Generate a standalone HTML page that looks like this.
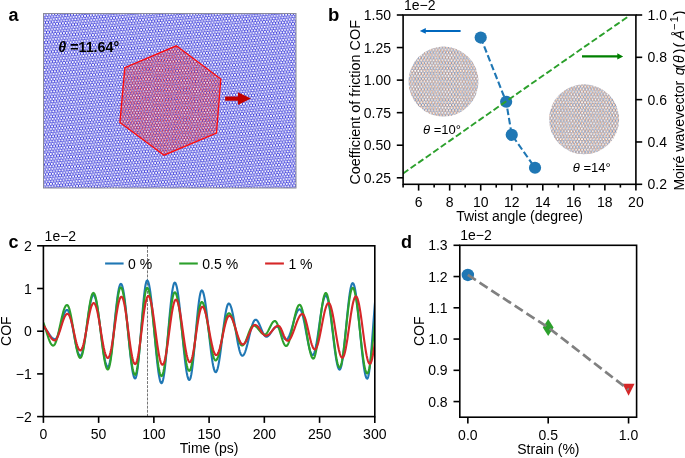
<!DOCTYPE html>
<html><head><meta charset="utf-8"><style>
html,body{margin:0;padding:0;background:#fff;width:685px;height:458px;overflow:hidden;}
svg{display:block;font-family:"Liberation Sans",sans-serif;will-change:transform;}
</style></head><body>
<svg width="685" height="458" viewBox="0 0 685 458" font-family="Liberation Sans, sans-serif"><defs><pattern id="pb" patternUnits="userSpaceOnUse" width="28.600" height="29.722" patternTransform="rotate(-6)"><rect width="28.600" height="29.722" fill="#2020d6"/><path d="M-1.12,0.00a1.12,1.12 0 1,0 2.24,0a1.12,1.12 0 1,0 -2.24,0M0.31,2.48a1.12,1.12 0 1,0 2.24,0a1.12,1.12 0 1,0 -2.24,0M1.74,0.00a1.12,1.12 0 1,0 2.24,0a1.12,1.12 0 1,0 -2.24,0M3.17,2.48a1.12,1.12 0 1,0 2.24,0a1.12,1.12 0 1,0 -2.24,0M4.60,0.00a1.12,1.12 0 1,0 2.24,0a1.12,1.12 0 1,0 -2.24,0M6.03,2.48a1.12,1.12 0 1,0 2.24,0a1.12,1.12 0 1,0 -2.24,0M7.46,0.00a1.12,1.12 0 1,0 2.24,0a1.12,1.12 0 1,0 -2.24,0M8.89,2.48a1.12,1.12 0 1,0 2.24,0a1.12,1.12 0 1,0 -2.24,0M10.32,0.00a1.12,1.12 0 1,0 2.24,0a1.12,1.12 0 1,0 -2.24,0M11.75,2.48a1.12,1.12 0 1,0 2.24,0a1.12,1.12 0 1,0 -2.24,0M13.18,0.00a1.12,1.12 0 1,0 2.24,0a1.12,1.12 0 1,0 -2.24,0M14.61,2.48a1.12,1.12 0 1,0 2.24,0a1.12,1.12 0 1,0 -2.24,0M16.04,0.00a1.12,1.12 0 1,0 2.24,0a1.12,1.12 0 1,0 -2.24,0M17.47,2.48a1.12,1.12 0 1,0 2.24,0a1.12,1.12 0 1,0 -2.24,0M18.90,0.00a1.12,1.12 0 1,0 2.24,0a1.12,1.12 0 1,0 -2.24,0M20.33,2.48a1.12,1.12 0 1,0 2.24,0a1.12,1.12 0 1,0 -2.24,0M21.76,0.00a1.12,1.12 0 1,0 2.24,0a1.12,1.12 0 1,0 -2.24,0M23.19,2.48a1.12,1.12 0 1,0 2.24,0a1.12,1.12 0 1,0 -2.24,0M24.62,0.00a1.12,1.12 0 1,0 2.24,0a1.12,1.12 0 1,0 -2.24,0M26.05,2.48a1.12,1.12 0 1,0 2.24,0a1.12,1.12 0 1,0 -2.24,0M27.48,0.00a1.12,1.12 0 1,0 2.24,0a1.12,1.12 0 1,0 -2.24,0M-1.12,4.95a1.12,1.12 0 1,0 2.24,0a1.12,1.12 0 1,0 -2.24,0M0.31,7.43a1.12,1.12 0 1,0 2.24,0a1.12,1.12 0 1,0 -2.24,0M1.74,4.95a1.12,1.12 0 1,0 2.24,0a1.12,1.12 0 1,0 -2.24,0M3.17,7.43a1.12,1.12 0 1,0 2.24,0a1.12,1.12 0 1,0 -2.24,0M4.60,4.95a1.12,1.12 0 1,0 2.24,0a1.12,1.12 0 1,0 -2.24,0M6.03,7.43a1.12,1.12 0 1,0 2.24,0a1.12,1.12 0 1,0 -2.24,0M7.46,4.95a1.12,1.12 0 1,0 2.24,0a1.12,1.12 0 1,0 -2.24,0M8.89,7.43a1.12,1.12 0 1,0 2.24,0a1.12,1.12 0 1,0 -2.24,0M10.32,4.95a1.12,1.12 0 1,0 2.24,0a1.12,1.12 0 1,0 -2.24,0M11.75,7.43a1.12,1.12 0 1,0 2.24,0a1.12,1.12 0 1,0 -2.24,0M13.18,4.95a1.12,1.12 0 1,0 2.24,0a1.12,1.12 0 1,0 -2.24,0M14.61,7.43a1.12,1.12 0 1,0 2.24,0a1.12,1.12 0 1,0 -2.24,0M16.04,4.95a1.12,1.12 0 1,0 2.24,0a1.12,1.12 0 1,0 -2.24,0M17.47,7.43a1.12,1.12 0 1,0 2.24,0a1.12,1.12 0 1,0 -2.24,0M18.90,4.95a1.12,1.12 0 1,0 2.24,0a1.12,1.12 0 1,0 -2.24,0M20.33,7.43a1.12,1.12 0 1,0 2.24,0a1.12,1.12 0 1,0 -2.24,0M21.76,4.95a1.12,1.12 0 1,0 2.24,0a1.12,1.12 0 1,0 -2.24,0M23.19,7.43a1.12,1.12 0 1,0 2.24,0a1.12,1.12 0 1,0 -2.24,0M24.62,4.95a1.12,1.12 0 1,0 2.24,0a1.12,1.12 0 1,0 -2.24,0M26.05,7.43a1.12,1.12 0 1,0 2.24,0a1.12,1.12 0 1,0 -2.24,0M27.48,4.95a1.12,1.12 0 1,0 2.24,0a1.12,1.12 0 1,0 -2.24,0M-1.12,9.91a1.12,1.12 0 1,0 2.24,0a1.12,1.12 0 1,0 -2.24,0M0.31,12.38a1.12,1.12 0 1,0 2.24,0a1.12,1.12 0 1,0 -2.24,0M1.74,9.91a1.12,1.12 0 1,0 2.24,0a1.12,1.12 0 1,0 -2.24,0M3.17,12.38a1.12,1.12 0 1,0 2.24,0a1.12,1.12 0 1,0 -2.24,0M4.60,9.91a1.12,1.12 0 1,0 2.24,0a1.12,1.12 0 1,0 -2.24,0M6.03,12.38a1.12,1.12 0 1,0 2.24,0a1.12,1.12 0 1,0 -2.24,0M7.46,9.91a1.12,1.12 0 1,0 2.24,0a1.12,1.12 0 1,0 -2.24,0M8.89,12.38a1.12,1.12 0 1,0 2.24,0a1.12,1.12 0 1,0 -2.24,0M10.32,9.91a1.12,1.12 0 1,0 2.24,0a1.12,1.12 0 1,0 -2.24,0M11.75,12.38a1.12,1.12 0 1,0 2.24,0a1.12,1.12 0 1,0 -2.24,0M13.18,9.91a1.12,1.12 0 1,0 2.24,0a1.12,1.12 0 1,0 -2.24,0M14.61,12.38a1.12,1.12 0 1,0 2.24,0a1.12,1.12 0 1,0 -2.24,0M16.04,9.91a1.12,1.12 0 1,0 2.24,0a1.12,1.12 0 1,0 -2.24,0M17.47,12.38a1.12,1.12 0 1,0 2.24,0a1.12,1.12 0 1,0 -2.24,0M18.90,9.91a1.12,1.12 0 1,0 2.24,0a1.12,1.12 0 1,0 -2.24,0M20.33,12.38a1.12,1.12 0 1,0 2.24,0a1.12,1.12 0 1,0 -2.24,0M21.76,9.91a1.12,1.12 0 1,0 2.24,0a1.12,1.12 0 1,0 -2.24,0M23.19,12.38a1.12,1.12 0 1,0 2.24,0a1.12,1.12 0 1,0 -2.24,0M24.62,9.91a1.12,1.12 0 1,0 2.24,0a1.12,1.12 0 1,0 -2.24,0M26.05,12.38a1.12,1.12 0 1,0 2.24,0a1.12,1.12 0 1,0 -2.24,0M27.48,9.91a1.12,1.12 0 1,0 2.24,0a1.12,1.12 0 1,0 -2.24,0M-1.12,14.86a1.12,1.12 0 1,0 2.24,0a1.12,1.12 0 1,0 -2.24,0M0.31,17.34a1.12,1.12 0 1,0 2.24,0a1.12,1.12 0 1,0 -2.24,0M1.74,14.86a1.12,1.12 0 1,0 2.24,0a1.12,1.12 0 1,0 -2.24,0M3.17,17.34a1.12,1.12 0 1,0 2.24,0a1.12,1.12 0 1,0 -2.24,0M4.60,14.86a1.12,1.12 0 1,0 2.24,0a1.12,1.12 0 1,0 -2.24,0M6.03,17.34a1.12,1.12 0 1,0 2.24,0a1.12,1.12 0 1,0 -2.24,0M7.46,14.86a1.12,1.12 0 1,0 2.24,0a1.12,1.12 0 1,0 -2.24,0M8.89,17.34a1.12,1.12 0 1,0 2.24,0a1.12,1.12 0 1,0 -2.24,0M10.32,14.86a1.12,1.12 0 1,0 2.24,0a1.12,1.12 0 1,0 -2.24,0M11.75,17.34a1.12,1.12 0 1,0 2.24,0a1.12,1.12 0 1,0 -2.24,0M13.18,14.86a1.12,1.12 0 1,0 2.24,0a1.12,1.12 0 1,0 -2.24,0M14.61,17.34a1.12,1.12 0 1,0 2.24,0a1.12,1.12 0 1,0 -2.24,0M16.04,14.86a1.12,1.12 0 1,0 2.24,0a1.12,1.12 0 1,0 -2.24,0M17.47,17.34a1.12,1.12 0 1,0 2.24,0a1.12,1.12 0 1,0 -2.24,0M18.90,14.86a1.12,1.12 0 1,0 2.24,0a1.12,1.12 0 1,0 -2.24,0M20.33,17.34a1.12,1.12 0 1,0 2.24,0a1.12,1.12 0 1,0 -2.24,0M21.76,14.86a1.12,1.12 0 1,0 2.24,0a1.12,1.12 0 1,0 -2.24,0M23.19,17.34a1.12,1.12 0 1,0 2.24,0a1.12,1.12 0 1,0 -2.24,0M24.62,14.86a1.12,1.12 0 1,0 2.24,0a1.12,1.12 0 1,0 -2.24,0M26.05,17.34a1.12,1.12 0 1,0 2.24,0a1.12,1.12 0 1,0 -2.24,0M27.48,14.86a1.12,1.12 0 1,0 2.24,0a1.12,1.12 0 1,0 -2.24,0M-1.12,19.81a1.12,1.12 0 1,0 2.24,0a1.12,1.12 0 1,0 -2.24,0M0.31,22.29a1.12,1.12 0 1,0 2.24,0a1.12,1.12 0 1,0 -2.24,0M1.74,19.81a1.12,1.12 0 1,0 2.24,0a1.12,1.12 0 1,0 -2.24,0M3.17,22.29a1.12,1.12 0 1,0 2.24,0a1.12,1.12 0 1,0 -2.24,0M4.60,19.81a1.12,1.12 0 1,0 2.24,0a1.12,1.12 0 1,0 -2.24,0M6.03,22.29a1.12,1.12 0 1,0 2.24,0a1.12,1.12 0 1,0 -2.24,0M7.46,19.81a1.12,1.12 0 1,0 2.24,0a1.12,1.12 0 1,0 -2.24,0M8.89,22.29a1.12,1.12 0 1,0 2.24,0a1.12,1.12 0 1,0 -2.24,0M10.32,19.81a1.12,1.12 0 1,0 2.24,0a1.12,1.12 0 1,0 -2.24,0M11.75,22.29a1.12,1.12 0 1,0 2.24,0a1.12,1.12 0 1,0 -2.24,0M13.18,19.81a1.12,1.12 0 1,0 2.24,0a1.12,1.12 0 1,0 -2.24,0M14.61,22.29a1.12,1.12 0 1,0 2.24,0a1.12,1.12 0 1,0 -2.24,0M16.04,19.81a1.12,1.12 0 1,0 2.24,0a1.12,1.12 0 1,0 -2.24,0M17.47,22.29a1.12,1.12 0 1,0 2.24,0a1.12,1.12 0 1,0 -2.24,0M18.90,19.81a1.12,1.12 0 1,0 2.24,0a1.12,1.12 0 1,0 -2.24,0M20.33,22.29a1.12,1.12 0 1,0 2.24,0a1.12,1.12 0 1,0 -2.24,0M21.76,19.81a1.12,1.12 0 1,0 2.24,0a1.12,1.12 0 1,0 -2.24,0M23.19,22.29a1.12,1.12 0 1,0 2.24,0a1.12,1.12 0 1,0 -2.24,0M24.62,19.81a1.12,1.12 0 1,0 2.24,0a1.12,1.12 0 1,0 -2.24,0M26.05,22.29a1.12,1.12 0 1,0 2.24,0a1.12,1.12 0 1,0 -2.24,0M27.48,19.81a1.12,1.12 0 1,0 2.24,0a1.12,1.12 0 1,0 -2.24,0M-1.12,24.77a1.12,1.12 0 1,0 2.24,0a1.12,1.12 0 1,0 -2.24,0M0.31,27.25a1.12,1.12 0 1,0 2.24,0a1.12,1.12 0 1,0 -2.24,0M1.74,24.77a1.12,1.12 0 1,0 2.24,0a1.12,1.12 0 1,0 -2.24,0M3.17,27.25a1.12,1.12 0 1,0 2.24,0a1.12,1.12 0 1,0 -2.24,0M4.60,24.77a1.12,1.12 0 1,0 2.24,0a1.12,1.12 0 1,0 -2.24,0M6.03,27.25a1.12,1.12 0 1,0 2.24,0a1.12,1.12 0 1,0 -2.24,0M7.46,24.77a1.12,1.12 0 1,0 2.24,0a1.12,1.12 0 1,0 -2.24,0M8.89,27.25a1.12,1.12 0 1,0 2.24,0a1.12,1.12 0 1,0 -2.24,0M10.32,24.77a1.12,1.12 0 1,0 2.24,0a1.12,1.12 0 1,0 -2.24,0M11.75,27.25a1.12,1.12 0 1,0 2.24,0a1.12,1.12 0 1,0 -2.24,0M13.18,24.77a1.12,1.12 0 1,0 2.24,0a1.12,1.12 0 1,0 -2.24,0M14.61,27.25a1.12,1.12 0 1,0 2.24,0a1.12,1.12 0 1,0 -2.24,0M16.04,24.77a1.12,1.12 0 1,0 2.24,0a1.12,1.12 0 1,0 -2.24,0M17.47,27.25a1.12,1.12 0 1,0 2.24,0a1.12,1.12 0 1,0 -2.24,0M18.90,24.77a1.12,1.12 0 1,0 2.24,0a1.12,1.12 0 1,0 -2.24,0M20.33,27.25a1.12,1.12 0 1,0 2.24,0a1.12,1.12 0 1,0 -2.24,0M21.76,24.77a1.12,1.12 0 1,0 2.24,0a1.12,1.12 0 1,0 -2.24,0M23.19,27.25a1.12,1.12 0 1,0 2.24,0a1.12,1.12 0 1,0 -2.24,0M24.62,24.77a1.12,1.12 0 1,0 2.24,0a1.12,1.12 0 1,0 -2.24,0M26.05,27.25a1.12,1.12 0 1,0 2.24,0a1.12,1.12 0 1,0 -2.24,0M27.48,24.77a1.12,1.12 0 1,0 2.24,0a1.12,1.12 0 1,0 -2.24,0M-1.12,29.72a1.12,1.12 0 1,0 2.24,0a1.12,1.12 0 1,0 -2.24,0M1.74,29.72a1.12,1.12 0 1,0 2.24,0a1.12,1.12 0 1,0 -2.24,0M4.60,29.72a1.12,1.12 0 1,0 2.24,0a1.12,1.12 0 1,0 -2.24,0M7.46,29.72a1.12,1.12 0 1,0 2.24,0a1.12,1.12 0 1,0 -2.24,0M10.32,29.72a1.12,1.12 0 1,0 2.24,0a1.12,1.12 0 1,0 -2.24,0M13.18,29.72a1.12,1.12 0 1,0 2.24,0a1.12,1.12 0 1,0 -2.24,0M16.04,29.72a1.12,1.12 0 1,0 2.24,0a1.12,1.12 0 1,0 -2.24,0M18.90,29.72a1.12,1.12 0 1,0 2.24,0a1.12,1.12 0 1,0 -2.24,0M21.76,29.72a1.12,1.12 0 1,0 2.24,0a1.12,1.12 0 1,0 -2.24,0M24.62,29.72a1.12,1.12 0 1,0 2.24,0a1.12,1.12 0 1,0 -2.24,0M27.48,29.72a1.12,1.12 0 1,0 2.24,0a1.12,1.12 0 1,0 -2.24,0" fill="#fff"/></pattern><pattern id="pr" patternUnits="userSpaceOnUse" width="22.863" height="24.750" patternTransform="rotate(5.64)"><path d="M0.000,0.000 v0.825 l1.429,0.825 l1.429,-0.825 v-0.825 M1.429,1.650 v1.650 M0.000,4.950 v-0.825 l1.429,-0.825 l1.429,0.825 v0.825M2.858,0.000 v0.825 l1.429,0.825 l1.429,-0.825 v-0.825 M4.287,1.650 v1.650 M2.858,4.950 v-0.825 l1.429,-0.825 l1.429,0.825 v0.825M5.716,0.000 v0.825 l1.429,0.825 l1.429,-0.825 v-0.825 M7.145,1.650 v1.650 M5.716,4.950 v-0.825 l1.429,-0.825 l1.429,0.825 v0.825M8.574,0.000 v0.825 l1.429,0.825 l1.429,-0.825 v-0.825 M10.003,1.650 v1.650 M8.574,4.950 v-0.825 l1.429,-0.825 l1.429,0.825 v0.825M11.432,0.000 v0.825 l1.429,0.825 l1.429,-0.825 v-0.825 M12.860,1.650 v1.650 M11.432,4.950 v-0.825 l1.429,-0.825 l1.429,0.825 v0.825M14.289,0.000 v0.825 l1.429,0.825 l1.429,-0.825 v-0.825 M15.718,1.650 v1.650 M14.289,4.950 v-0.825 l1.429,-0.825 l1.429,0.825 v0.825M17.147,0.000 v0.825 l1.429,0.825 l1.429,-0.825 v-0.825 M18.576,1.650 v1.650 M17.147,4.950 v-0.825 l1.429,-0.825 l1.429,0.825 v0.825M20.005,0.000 v0.825 l1.429,0.825 l1.429,-0.825 v-0.825 M21.434,1.650 v1.650 M20.005,4.950 v-0.825 l1.429,-0.825 l1.429,0.825 v0.825M0.000,4.950 v0.825 l1.429,0.825 l1.429,-0.825 v-0.825 M1.429,6.600 v1.650 M0.000,9.900 v-0.825 l1.429,-0.825 l1.429,0.825 v0.825M2.858,4.950 v0.825 l1.429,0.825 l1.429,-0.825 v-0.825 M4.287,6.600 v1.650 M2.858,9.900 v-0.825 l1.429,-0.825 l1.429,0.825 v0.825M5.716,4.950 v0.825 l1.429,0.825 l1.429,-0.825 v-0.825 M7.145,6.600 v1.650 M5.716,9.900 v-0.825 l1.429,-0.825 l1.429,0.825 v0.825M8.574,4.950 v0.825 l1.429,0.825 l1.429,-0.825 v-0.825 M10.003,6.600 v1.650 M8.574,9.900 v-0.825 l1.429,-0.825 l1.429,0.825 v0.825M11.432,4.950 v0.825 l1.429,0.825 l1.429,-0.825 v-0.825 M12.860,6.600 v1.650 M11.432,9.900 v-0.825 l1.429,-0.825 l1.429,0.825 v0.825M14.289,4.950 v0.825 l1.429,0.825 l1.429,-0.825 v-0.825 M15.718,6.600 v1.650 M14.289,9.900 v-0.825 l1.429,-0.825 l1.429,0.825 v0.825M17.147,4.950 v0.825 l1.429,0.825 l1.429,-0.825 v-0.825 M18.576,6.600 v1.650 M17.147,9.900 v-0.825 l1.429,-0.825 l1.429,0.825 v0.825M20.005,4.950 v0.825 l1.429,0.825 l1.429,-0.825 v-0.825 M21.434,6.600 v1.650 M20.005,9.900 v-0.825 l1.429,-0.825 l1.429,0.825 v0.825M0.000,9.900 v0.825 l1.429,0.825 l1.429,-0.825 v-0.825 M1.429,11.550 v1.650 M0.000,14.850 v-0.825 l1.429,-0.825 l1.429,0.825 v0.825M2.858,9.900 v0.825 l1.429,0.825 l1.429,-0.825 v-0.825 M4.287,11.550 v1.650 M2.858,14.850 v-0.825 l1.429,-0.825 l1.429,0.825 v0.825M5.716,9.900 v0.825 l1.429,0.825 l1.429,-0.825 v-0.825 M7.145,11.550 v1.650 M5.716,14.850 v-0.825 l1.429,-0.825 l1.429,0.825 v0.825M8.574,9.900 v0.825 l1.429,0.825 l1.429,-0.825 v-0.825 M10.003,11.550 v1.650 M8.574,14.850 v-0.825 l1.429,-0.825 l1.429,0.825 v0.825M11.432,9.900 v0.825 l1.429,0.825 l1.429,-0.825 v-0.825 M12.860,11.550 v1.650 M11.432,14.850 v-0.825 l1.429,-0.825 l1.429,0.825 v0.825M14.289,9.900 v0.825 l1.429,0.825 l1.429,-0.825 v-0.825 M15.718,11.550 v1.650 M14.289,14.850 v-0.825 l1.429,-0.825 l1.429,0.825 v0.825M17.147,9.900 v0.825 l1.429,0.825 l1.429,-0.825 v-0.825 M18.576,11.550 v1.650 M17.147,14.850 v-0.825 l1.429,-0.825 l1.429,0.825 v0.825M20.005,9.900 v0.825 l1.429,0.825 l1.429,-0.825 v-0.825 M21.434,11.550 v1.650 M20.005,14.850 v-0.825 l1.429,-0.825 l1.429,0.825 v0.825M0.000,14.850 v0.825 l1.429,0.825 l1.429,-0.825 v-0.825 M1.429,16.500 v1.650 M0.000,19.800 v-0.825 l1.429,-0.825 l1.429,0.825 v0.825M2.858,14.850 v0.825 l1.429,0.825 l1.429,-0.825 v-0.825 M4.287,16.500 v1.650 M2.858,19.800 v-0.825 l1.429,-0.825 l1.429,0.825 v0.825M5.716,14.850 v0.825 l1.429,0.825 l1.429,-0.825 v-0.825 M7.145,16.500 v1.650 M5.716,19.800 v-0.825 l1.429,-0.825 l1.429,0.825 v0.825M8.574,14.850 v0.825 l1.429,0.825 l1.429,-0.825 v-0.825 M10.003,16.500 v1.650 M8.574,19.800 v-0.825 l1.429,-0.825 l1.429,0.825 v0.825M11.432,14.850 v0.825 l1.429,0.825 l1.429,-0.825 v-0.825 M12.860,16.500 v1.650 M11.432,19.800 v-0.825 l1.429,-0.825 l1.429,0.825 v0.825M14.289,14.850 v0.825 l1.429,0.825 l1.429,-0.825 v-0.825 M15.718,16.500 v1.650 M14.289,19.800 v-0.825 l1.429,-0.825 l1.429,0.825 v0.825M17.147,14.850 v0.825 l1.429,0.825 l1.429,-0.825 v-0.825 M18.576,16.500 v1.650 M17.147,19.800 v-0.825 l1.429,-0.825 l1.429,0.825 v0.825M20.005,14.850 v0.825 l1.429,0.825 l1.429,-0.825 v-0.825 M21.434,16.500 v1.650 M20.005,19.800 v-0.825 l1.429,-0.825 l1.429,0.825 v0.825M0.000,19.800 v0.825 l1.429,0.825 l1.429,-0.825 v-0.825 M1.429,21.450 v1.650 M0.000,24.750 v-0.825 l1.429,-0.825 l1.429,0.825 v0.825M2.858,19.800 v0.825 l1.429,0.825 l1.429,-0.825 v-0.825 M4.287,21.450 v1.650 M2.858,24.750 v-0.825 l1.429,-0.825 l1.429,0.825 v0.825M5.716,19.800 v0.825 l1.429,0.825 l1.429,-0.825 v-0.825 M7.145,21.450 v1.650 M5.716,24.750 v-0.825 l1.429,-0.825 l1.429,0.825 v0.825M8.574,19.800 v0.825 l1.429,0.825 l1.429,-0.825 v-0.825 M10.003,21.450 v1.650 M8.574,24.750 v-0.825 l1.429,-0.825 l1.429,0.825 v0.825M11.432,19.800 v0.825 l1.429,0.825 l1.429,-0.825 v-0.825 M12.860,21.450 v1.650 M11.432,24.750 v-0.825 l1.429,-0.825 l1.429,0.825 v0.825M14.289,19.800 v0.825 l1.429,0.825 l1.429,-0.825 v-0.825 M15.718,21.450 v1.650 M14.289,24.750 v-0.825 l1.429,-0.825 l1.429,0.825 v0.825M17.147,19.800 v0.825 l1.429,0.825 l1.429,-0.825 v-0.825 M18.576,21.450 v1.650 M17.147,24.750 v-0.825 l1.429,-0.825 l1.429,0.825 v0.825M20.005,19.800 v0.825 l1.429,0.825 l1.429,-0.825 v-0.825 M21.434,21.450 v1.650 M20.005,24.750 v-0.825 l1.429,-0.825 l1.429,0.825 v0.825" fill="none" stroke="#f01414" stroke-width="0.5"/></pattern><pattern id="ib" patternUnits="userSpaceOnUse" width="24.249" height="26.250" patternTransform="rotate(0)"><path d="M0.000,0.000 v0.875 l1.516,0.875 l1.516,-0.875 v-0.875 M1.516,1.750 v1.750 M0.000,5.250 v-0.875 l1.516,-0.875 l1.516,0.875 v0.875M3.031,0.000 v0.875 l1.516,0.875 l1.516,-0.875 v-0.875 M4.547,1.750 v1.750 M3.031,5.250 v-0.875 l1.516,-0.875 l1.516,0.875 v0.875M6.062,0.000 v0.875 l1.516,0.875 l1.516,-0.875 v-0.875 M7.578,1.750 v1.750 M6.062,5.250 v-0.875 l1.516,-0.875 l1.516,0.875 v0.875M9.093,0.000 v0.875 l1.516,0.875 l1.516,-0.875 v-0.875 M10.609,1.750 v1.750 M9.093,5.250 v-0.875 l1.516,-0.875 l1.516,0.875 v0.875M12.124,0.000 v0.875 l1.516,0.875 l1.516,-0.875 v-0.875 M13.640,1.750 v1.750 M12.124,5.250 v-0.875 l1.516,-0.875 l1.516,0.875 v0.875M15.155,0.000 v0.875 l1.516,0.875 l1.516,-0.875 v-0.875 M16.671,1.750 v1.750 M15.155,5.250 v-0.875 l1.516,-0.875 l1.516,0.875 v0.875M18.187,0.000 v0.875 l1.516,0.875 l1.516,-0.875 v-0.875 M19.702,1.750 v1.750 M18.187,5.250 v-0.875 l1.516,-0.875 l1.516,0.875 v0.875M21.218,0.000 v0.875 l1.516,0.875 l1.516,-0.875 v-0.875 M22.733,1.750 v1.750 M21.218,5.250 v-0.875 l1.516,-0.875 l1.516,0.875 v0.875M0.000,5.250 v0.875 l1.516,0.875 l1.516,-0.875 v-0.875 M1.516,7.000 v1.750 M0.000,10.500 v-0.875 l1.516,-0.875 l1.516,0.875 v0.875M3.031,5.250 v0.875 l1.516,0.875 l1.516,-0.875 v-0.875 M4.547,7.000 v1.750 M3.031,10.500 v-0.875 l1.516,-0.875 l1.516,0.875 v0.875M6.062,5.250 v0.875 l1.516,0.875 l1.516,-0.875 v-0.875 M7.578,7.000 v1.750 M6.062,10.500 v-0.875 l1.516,-0.875 l1.516,0.875 v0.875M9.093,5.250 v0.875 l1.516,0.875 l1.516,-0.875 v-0.875 M10.609,7.000 v1.750 M9.093,10.500 v-0.875 l1.516,-0.875 l1.516,0.875 v0.875M12.124,5.250 v0.875 l1.516,0.875 l1.516,-0.875 v-0.875 M13.640,7.000 v1.750 M12.124,10.500 v-0.875 l1.516,-0.875 l1.516,0.875 v0.875M15.155,5.250 v0.875 l1.516,0.875 l1.516,-0.875 v-0.875 M16.671,7.000 v1.750 M15.155,10.500 v-0.875 l1.516,-0.875 l1.516,0.875 v0.875M18.187,5.250 v0.875 l1.516,0.875 l1.516,-0.875 v-0.875 M19.702,7.000 v1.750 M18.187,10.500 v-0.875 l1.516,-0.875 l1.516,0.875 v0.875M21.218,5.250 v0.875 l1.516,0.875 l1.516,-0.875 v-0.875 M22.733,7.000 v1.750 M21.218,10.500 v-0.875 l1.516,-0.875 l1.516,0.875 v0.875M0.000,10.500 v0.875 l1.516,0.875 l1.516,-0.875 v-0.875 M1.516,12.250 v1.750 M0.000,15.750 v-0.875 l1.516,-0.875 l1.516,0.875 v0.875M3.031,10.500 v0.875 l1.516,0.875 l1.516,-0.875 v-0.875 M4.547,12.250 v1.750 M3.031,15.750 v-0.875 l1.516,-0.875 l1.516,0.875 v0.875M6.062,10.500 v0.875 l1.516,0.875 l1.516,-0.875 v-0.875 M7.578,12.250 v1.750 M6.062,15.750 v-0.875 l1.516,-0.875 l1.516,0.875 v0.875M9.093,10.500 v0.875 l1.516,0.875 l1.516,-0.875 v-0.875 M10.609,12.250 v1.750 M9.093,15.750 v-0.875 l1.516,-0.875 l1.516,0.875 v0.875M12.124,10.500 v0.875 l1.516,0.875 l1.516,-0.875 v-0.875 M13.640,12.250 v1.750 M12.124,15.750 v-0.875 l1.516,-0.875 l1.516,0.875 v0.875M15.155,10.500 v0.875 l1.516,0.875 l1.516,-0.875 v-0.875 M16.671,12.250 v1.750 M15.155,15.750 v-0.875 l1.516,-0.875 l1.516,0.875 v0.875M18.187,10.500 v0.875 l1.516,0.875 l1.516,-0.875 v-0.875 M19.702,12.250 v1.750 M18.187,15.750 v-0.875 l1.516,-0.875 l1.516,0.875 v0.875M21.218,10.500 v0.875 l1.516,0.875 l1.516,-0.875 v-0.875 M22.733,12.250 v1.750 M21.218,15.750 v-0.875 l1.516,-0.875 l1.516,0.875 v0.875M0.000,15.750 v0.875 l1.516,0.875 l1.516,-0.875 v-0.875 M1.516,17.500 v1.750 M0.000,21.000 v-0.875 l1.516,-0.875 l1.516,0.875 v0.875M3.031,15.750 v0.875 l1.516,0.875 l1.516,-0.875 v-0.875 M4.547,17.500 v1.750 M3.031,21.000 v-0.875 l1.516,-0.875 l1.516,0.875 v0.875M6.062,15.750 v0.875 l1.516,0.875 l1.516,-0.875 v-0.875 M7.578,17.500 v1.750 M6.062,21.000 v-0.875 l1.516,-0.875 l1.516,0.875 v0.875M9.093,15.750 v0.875 l1.516,0.875 l1.516,-0.875 v-0.875 M10.609,17.500 v1.750 M9.093,21.000 v-0.875 l1.516,-0.875 l1.516,0.875 v0.875M12.124,15.750 v0.875 l1.516,0.875 l1.516,-0.875 v-0.875 M13.640,17.500 v1.750 M12.124,21.000 v-0.875 l1.516,-0.875 l1.516,0.875 v0.875M15.155,15.750 v0.875 l1.516,0.875 l1.516,-0.875 v-0.875 M16.671,17.500 v1.750 M15.155,21.000 v-0.875 l1.516,-0.875 l1.516,0.875 v0.875M18.187,15.750 v0.875 l1.516,0.875 l1.516,-0.875 v-0.875 M19.702,17.500 v1.750 M18.187,21.000 v-0.875 l1.516,-0.875 l1.516,0.875 v0.875M21.218,15.750 v0.875 l1.516,0.875 l1.516,-0.875 v-0.875 M22.733,17.500 v1.750 M21.218,21.000 v-0.875 l1.516,-0.875 l1.516,0.875 v0.875M0.000,21.000 v0.875 l1.516,0.875 l1.516,-0.875 v-0.875 M1.516,22.750 v1.750 M0.000,26.250 v-0.875 l1.516,-0.875 l1.516,0.875 v0.875M3.031,21.000 v0.875 l1.516,0.875 l1.516,-0.875 v-0.875 M4.547,22.750 v1.750 M3.031,26.250 v-0.875 l1.516,-0.875 l1.516,0.875 v0.875M6.062,21.000 v0.875 l1.516,0.875 l1.516,-0.875 v-0.875 M7.578,22.750 v1.750 M6.062,26.250 v-0.875 l1.516,-0.875 l1.516,0.875 v0.875M9.093,21.000 v0.875 l1.516,0.875 l1.516,-0.875 v-0.875 M10.609,22.750 v1.750 M9.093,26.250 v-0.875 l1.516,-0.875 l1.516,0.875 v0.875M12.124,21.000 v0.875 l1.516,0.875 l1.516,-0.875 v-0.875 M13.640,22.750 v1.750 M12.124,26.250 v-0.875 l1.516,-0.875 l1.516,0.875 v0.875M15.155,21.000 v0.875 l1.516,0.875 l1.516,-0.875 v-0.875 M16.671,22.750 v1.750 M15.155,26.250 v-0.875 l1.516,-0.875 l1.516,0.875 v0.875M18.187,21.000 v0.875 l1.516,0.875 l1.516,-0.875 v-0.875 M19.702,22.750 v1.750 M18.187,26.250 v-0.875 l1.516,-0.875 l1.516,0.875 v0.875M21.218,21.000 v0.875 l1.516,0.875 l1.516,-0.875 v-0.875 M22.733,22.750 v1.750 M21.218,26.250 v-0.875 l1.516,-0.875 l1.516,0.875 v0.875" fill="none" stroke="#5583c0" stroke-width="0.68"/></pattern><pattern id="io" patternUnits="userSpaceOnUse" width="24.249" height="26.250" patternTransform="rotate(10)"><path d="M0.000,0.000 v0.875 l1.516,0.875 l1.516,-0.875 v-0.875 M1.516,1.750 v1.750 M0.000,5.250 v-0.875 l1.516,-0.875 l1.516,0.875 v0.875M3.031,0.000 v0.875 l1.516,0.875 l1.516,-0.875 v-0.875 M4.547,1.750 v1.750 M3.031,5.250 v-0.875 l1.516,-0.875 l1.516,0.875 v0.875M6.062,0.000 v0.875 l1.516,0.875 l1.516,-0.875 v-0.875 M7.578,1.750 v1.750 M6.062,5.250 v-0.875 l1.516,-0.875 l1.516,0.875 v0.875M9.093,0.000 v0.875 l1.516,0.875 l1.516,-0.875 v-0.875 M10.609,1.750 v1.750 M9.093,5.250 v-0.875 l1.516,-0.875 l1.516,0.875 v0.875M12.124,0.000 v0.875 l1.516,0.875 l1.516,-0.875 v-0.875 M13.640,1.750 v1.750 M12.124,5.250 v-0.875 l1.516,-0.875 l1.516,0.875 v0.875M15.155,0.000 v0.875 l1.516,0.875 l1.516,-0.875 v-0.875 M16.671,1.750 v1.750 M15.155,5.250 v-0.875 l1.516,-0.875 l1.516,0.875 v0.875M18.187,0.000 v0.875 l1.516,0.875 l1.516,-0.875 v-0.875 M19.702,1.750 v1.750 M18.187,5.250 v-0.875 l1.516,-0.875 l1.516,0.875 v0.875M21.218,0.000 v0.875 l1.516,0.875 l1.516,-0.875 v-0.875 M22.733,1.750 v1.750 M21.218,5.250 v-0.875 l1.516,-0.875 l1.516,0.875 v0.875M0.000,5.250 v0.875 l1.516,0.875 l1.516,-0.875 v-0.875 M1.516,7.000 v1.750 M0.000,10.500 v-0.875 l1.516,-0.875 l1.516,0.875 v0.875M3.031,5.250 v0.875 l1.516,0.875 l1.516,-0.875 v-0.875 M4.547,7.000 v1.750 M3.031,10.500 v-0.875 l1.516,-0.875 l1.516,0.875 v0.875M6.062,5.250 v0.875 l1.516,0.875 l1.516,-0.875 v-0.875 M7.578,7.000 v1.750 M6.062,10.500 v-0.875 l1.516,-0.875 l1.516,0.875 v0.875M9.093,5.250 v0.875 l1.516,0.875 l1.516,-0.875 v-0.875 M10.609,7.000 v1.750 M9.093,10.500 v-0.875 l1.516,-0.875 l1.516,0.875 v0.875M12.124,5.250 v0.875 l1.516,0.875 l1.516,-0.875 v-0.875 M13.640,7.000 v1.750 M12.124,10.500 v-0.875 l1.516,-0.875 l1.516,0.875 v0.875M15.155,5.250 v0.875 l1.516,0.875 l1.516,-0.875 v-0.875 M16.671,7.000 v1.750 M15.155,10.500 v-0.875 l1.516,-0.875 l1.516,0.875 v0.875M18.187,5.250 v0.875 l1.516,0.875 l1.516,-0.875 v-0.875 M19.702,7.000 v1.750 M18.187,10.500 v-0.875 l1.516,-0.875 l1.516,0.875 v0.875M21.218,5.250 v0.875 l1.516,0.875 l1.516,-0.875 v-0.875 M22.733,7.000 v1.750 M21.218,10.500 v-0.875 l1.516,-0.875 l1.516,0.875 v0.875M0.000,10.500 v0.875 l1.516,0.875 l1.516,-0.875 v-0.875 M1.516,12.250 v1.750 M0.000,15.750 v-0.875 l1.516,-0.875 l1.516,0.875 v0.875M3.031,10.500 v0.875 l1.516,0.875 l1.516,-0.875 v-0.875 M4.547,12.250 v1.750 M3.031,15.750 v-0.875 l1.516,-0.875 l1.516,0.875 v0.875M6.062,10.500 v0.875 l1.516,0.875 l1.516,-0.875 v-0.875 M7.578,12.250 v1.750 M6.062,15.750 v-0.875 l1.516,-0.875 l1.516,0.875 v0.875M9.093,10.500 v0.875 l1.516,0.875 l1.516,-0.875 v-0.875 M10.609,12.250 v1.750 M9.093,15.750 v-0.875 l1.516,-0.875 l1.516,0.875 v0.875M12.124,10.500 v0.875 l1.516,0.875 l1.516,-0.875 v-0.875 M13.640,12.250 v1.750 M12.124,15.750 v-0.875 l1.516,-0.875 l1.516,0.875 v0.875M15.155,10.500 v0.875 l1.516,0.875 l1.516,-0.875 v-0.875 M16.671,12.250 v1.750 M15.155,15.750 v-0.875 l1.516,-0.875 l1.516,0.875 v0.875M18.187,10.500 v0.875 l1.516,0.875 l1.516,-0.875 v-0.875 M19.702,12.250 v1.750 M18.187,15.750 v-0.875 l1.516,-0.875 l1.516,0.875 v0.875M21.218,10.500 v0.875 l1.516,0.875 l1.516,-0.875 v-0.875 M22.733,12.250 v1.750 M21.218,15.750 v-0.875 l1.516,-0.875 l1.516,0.875 v0.875M0.000,15.750 v0.875 l1.516,0.875 l1.516,-0.875 v-0.875 M1.516,17.500 v1.750 M0.000,21.000 v-0.875 l1.516,-0.875 l1.516,0.875 v0.875M3.031,15.750 v0.875 l1.516,0.875 l1.516,-0.875 v-0.875 M4.547,17.500 v1.750 M3.031,21.000 v-0.875 l1.516,-0.875 l1.516,0.875 v0.875M6.062,15.750 v0.875 l1.516,0.875 l1.516,-0.875 v-0.875 M7.578,17.500 v1.750 M6.062,21.000 v-0.875 l1.516,-0.875 l1.516,0.875 v0.875M9.093,15.750 v0.875 l1.516,0.875 l1.516,-0.875 v-0.875 M10.609,17.500 v1.750 M9.093,21.000 v-0.875 l1.516,-0.875 l1.516,0.875 v0.875M12.124,15.750 v0.875 l1.516,0.875 l1.516,-0.875 v-0.875 M13.640,17.500 v1.750 M12.124,21.000 v-0.875 l1.516,-0.875 l1.516,0.875 v0.875M15.155,15.750 v0.875 l1.516,0.875 l1.516,-0.875 v-0.875 M16.671,17.500 v1.750 M15.155,21.000 v-0.875 l1.516,-0.875 l1.516,0.875 v0.875M18.187,15.750 v0.875 l1.516,0.875 l1.516,-0.875 v-0.875 M19.702,17.500 v1.750 M18.187,21.000 v-0.875 l1.516,-0.875 l1.516,0.875 v0.875M21.218,15.750 v0.875 l1.516,0.875 l1.516,-0.875 v-0.875 M22.733,17.500 v1.750 M21.218,21.000 v-0.875 l1.516,-0.875 l1.516,0.875 v0.875M0.000,21.000 v0.875 l1.516,0.875 l1.516,-0.875 v-0.875 M1.516,22.750 v1.750 M0.000,26.250 v-0.875 l1.516,-0.875 l1.516,0.875 v0.875M3.031,21.000 v0.875 l1.516,0.875 l1.516,-0.875 v-0.875 M4.547,22.750 v1.750 M3.031,26.250 v-0.875 l1.516,-0.875 l1.516,0.875 v0.875M6.062,21.000 v0.875 l1.516,0.875 l1.516,-0.875 v-0.875 M7.578,22.750 v1.750 M6.062,26.250 v-0.875 l1.516,-0.875 l1.516,0.875 v0.875M9.093,21.000 v0.875 l1.516,0.875 l1.516,-0.875 v-0.875 M10.609,22.750 v1.750 M9.093,26.250 v-0.875 l1.516,-0.875 l1.516,0.875 v0.875M12.124,21.000 v0.875 l1.516,0.875 l1.516,-0.875 v-0.875 M13.640,22.750 v1.750 M12.124,26.250 v-0.875 l1.516,-0.875 l1.516,0.875 v0.875M15.155,21.000 v0.875 l1.516,0.875 l1.516,-0.875 v-0.875 M16.671,22.750 v1.750 M15.155,26.250 v-0.875 l1.516,-0.875 l1.516,0.875 v0.875M18.187,21.000 v0.875 l1.516,0.875 l1.516,-0.875 v-0.875 M19.702,22.750 v1.750 M18.187,26.250 v-0.875 l1.516,-0.875 l1.516,0.875 v0.875M21.218,21.000 v0.875 l1.516,0.875 l1.516,-0.875 v-0.875 M22.733,22.750 v1.750 M21.218,26.250 v-0.875 l1.516,-0.875 l1.516,0.875 v0.875" fill="none" stroke="#f09050" stroke-width="0.38"/></pattern><pattern id="ib2" patternUnits="userSpaceOnUse" width="24.249" height="26.250" patternTransform="rotate(0)"><path d="M0.000,0.000 v0.875 l1.516,0.875 l1.516,-0.875 v-0.875 M1.516,1.750 v1.750 M0.000,5.250 v-0.875 l1.516,-0.875 l1.516,0.875 v0.875M3.031,0.000 v0.875 l1.516,0.875 l1.516,-0.875 v-0.875 M4.547,1.750 v1.750 M3.031,5.250 v-0.875 l1.516,-0.875 l1.516,0.875 v0.875M6.062,0.000 v0.875 l1.516,0.875 l1.516,-0.875 v-0.875 M7.578,1.750 v1.750 M6.062,5.250 v-0.875 l1.516,-0.875 l1.516,0.875 v0.875M9.093,0.000 v0.875 l1.516,0.875 l1.516,-0.875 v-0.875 M10.609,1.750 v1.750 M9.093,5.250 v-0.875 l1.516,-0.875 l1.516,0.875 v0.875M12.124,0.000 v0.875 l1.516,0.875 l1.516,-0.875 v-0.875 M13.640,1.750 v1.750 M12.124,5.250 v-0.875 l1.516,-0.875 l1.516,0.875 v0.875M15.155,0.000 v0.875 l1.516,0.875 l1.516,-0.875 v-0.875 M16.671,1.750 v1.750 M15.155,5.250 v-0.875 l1.516,-0.875 l1.516,0.875 v0.875M18.187,0.000 v0.875 l1.516,0.875 l1.516,-0.875 v-0.875 M19.702,1.750 v1.750 M18.187,5.250 v-0.875 l1.516,-0.875 l1.516,0.875 v0.875M21.218,0.000 v0.875 l1.516,0.875 l1.516,-0.875 v-0.875 M22.733,1.750 v1.750 M21.218,5.250 v-0.875 l1.516,-0.875 l1.516,0.875 v0.875M0.000,5.250 v0.875 l1.516,0.875 l1.516,-0.875 v-0.875 M1.516,7.000 v1.750 M0.000,10.500 v-0.875 l1.516,-0.875 l1.516,0.875 v0.875M3.031,5.250 v0.875 l1.516,0.875 l1.516,-0.875 v-0.875 M4.547,7.000 v1.750 M3.031,10.500 v-0.875 l1.516,-0.875 l1.516,0.875 v0.875M6.062,5.250 v0.875 l1.516,0.875 l1.516,-0.875 v-0.875 M7.578,7.000 v1.750 M6.062,10.500 v-0.875 l1.516,-0.875 l1.516,0.875 v0.875M9.093,5.250 v0.875 l1.516,0.875 l1.516,-0.875 v-0.875 M10.609,7.000 v1.750 M9.093,10.500 v-0.875 l1.516,-0.875 l1.516,0.875 v0.875M12.124,5.250 v0.875 l1.516,0.875 l1.516,-0.875 v-0.875 M13.640,7.000 v1.750 M12.124,10.500 v-0.875 l1.516,-0.875 l1.516,0.875 v0.875M15.155,5.250 v0.875 l1.516,0.875 l1.516,-0.875 v-0.875 M16.671,7.000 v1.750 M15.155,10.500 v-0.875 l1.516,-0.875 l1.516,0.875 v0.875M18.187,5.250 v0.875 l1.516,0.875 l1.516,-0.875 v-0.875 M19.702,7.000 v1.750 M18.187,10.500 v-0.875 l1.516,-0.875 l1.516,0.875 v0.875M21.218,5.250 v0.875 l1.516,0.875 l1.516,-0.875 v-0.875 M22.733,7.000 v1.750 M21.218,10.500 v-0.875 l1.516,-0.875 l1.516,0.875 v0.875M0.000,10.500 v0.875 l1.516,0.875 l1.516,-0.875 v-0.875 M1.516,12.250 v1.750 M0.000,15.750 v-0.875 l1.516,-0.875 l1.516,0.875 v0.875M3.031,10.500 v0.875 l1.516,0.875 l1.516,-0.875 v-0.875 M4.547,12.250 v1.750 M3.031,15.750 v-0.875 l1.516,-0.875 l1.516,0.875 v0.875M6.062,10.500 v0.875 l1.516,0.875 l1.516,-0.875 v-0.875 M7.578,12.250 v1.750 M6.062,15.750 v-0.875 l1.516,-0.875 l1.516,0.875 v0.875M9.093,10.500 v0.875 l1.516,0.875 l1.516,-0.875 v-0.875 M10.609,12.250 v1.750 M9.093,15.750 v-0.875 l1.516,-0.875 l1.516,0.875 v0.875M12.124,10.500 v0.875 l1.516,0.875 l1.516,-0.875 v-0.875 M13.640,12.250 v1.750 M12.124,15.750 v-0.875 l1.516,-0.875 l1.516,0.875 v0.875M15.155,10.500 v0.875 l1.516,0.875 l1.516,-0.875 v-0.875 M16.671,12.250 v1.750 M15.155,15.750 v-0.875 l1.516,-0.875 l1.516,0.875 v0.875M18.187,10.500 v0.875 l1.516,0.875 l1.516,-0.875 v-0.875 M19.702,12.250 v1.750 M18.187,15.750 v-0.875 l1.516,-0.875 l1.516,0.875 v0.875M21.218,10.500 v0.875 l1.516,0.875 l1.516,-0.875 v-0.875 M22.733,12.250 v1.750 M21.218,15.750 v-0.875 l1.516,-0.875 l1.516,0.875 v0.875M0.000,15.750 v0.875 l1.516,0.875 l1.516,-0.875 v-0.875 M1.516,17.500 v1.750 M0.000,21.000 v-0.875 l1.516,-0.875 l1.516,0.875 v0.875M3.031,15.750 v0.875 l1.516,0.875 l1.516,-0.875 v-0.875 M4.547,17.500 v1.750 M3.031,21.000 v-0.875 l1.516,-0.875 l1.516,0.875 v0.875M6.062,15.750 v0.875 l1.516,0.875 l1.516,-0.875 v-0.875 M7.578,17.500 v1.750 M6.062,21.000 v-0.875 l1.516,-0.875 l1.516,0.875 v0.875M9.093,15.750 v0.875 l1.516,0.875 l1.516,-0.875 v-0.875 M10.609,17.500 v1.750 M9.093,21.000 v-0.875 l1.516,-0.875 l1.516,0.875 v0.875M12.124,15.750 v0.875 l1.516,0.875 l1.516,-0.875 v-0.875 M13.640,17.500 v1.750 M12.124,21.000 v-0.875 l1.516,-0.875 l1.516,0.875 v0.875M15.155,15.750 v0.875 l1.516,0.875 l1.516,-0.875 v-0.875 M16.671,17.500 v1.750 M15.155,21.000 v-0.875 l1.516,-0.875 l1.516,0.875 v0.875M18.187,15.750 v0.875 l1.516,0.875 l1.516,-0.875 v-0.875 M19.702,17.500 v1.750 M18.187,21.000 v-0.875 l1.516,-0.875 l1.516,0.875 v0.875M21.218,15.750 v0.875 l1.516,0.875 l1.516,-0.875 v-0.875 M22.733,17.500 v1.750 M21.218,21.000 v-0.875 l1.516,-0.875 l1.516,0.875 v0.875M0.000,21.000 v0.875 l1.516,0.875 l1.516,-0.875 v-0.875 M1.516,22.750 v1.750 M0.000,26.250 v-0.875 l1.516,-0.875 l1.516,0.875 v0.875M3.031,21.000 v0.875 l1.516,0.875 l1.516,-0.875 v-0.875 M4.547,22.750 v1.750 M3.031,26.250 v-0.875 l1.516,-0.875 l1.516,0.875 v0.875M6.062,21.000 v0.875 l1.516,0.875 l1.516,-0.875 v-0.875 M7.578,22.750 v1.750 M6.062,26.250 v-0.875 l1.516,-0.875 l1.516,0.875 v0.875M9.093,21.000 v0.875 l1.516,0.875 l1.516,-0.875 v-0.875 M10.609,22.750 v1.750 M9.093,26.250 v-0.875 l1.516,-0.875 l1.516,0.875 v0.875M12.124,21.000 v0.875 l1.516,0.875 l1.516,-0.875 v-0.875 M13.640,22.750 v1.750 M12.124,26.250 v-0.875 l1.516,-0.875 l1.516,0.875 v0.875M15.155,21.000 v0.875 l1.516,0.875 l1.516,-0.875 v-0.875 M16.671,22.750 v1.750 M15.155,26.250 v-0.875 l1.516,-0.875 l1.516,0.875 v0.875M18.187,21.000 v0.875 l1.516,0.875 l1.516,-0.875 v-0.875 M19.702,22.750 v1.750 M18.187,26.250 v-0.875 l1.516,-0.875 l1.516,0.875 v0.875M21.218,21.000 v0.875 l1.516,0.875 l1.516,-0.875 v-0.875 M22.733,22.750 v1.750 M21.218,26.250 v-0.875 l1.516,-0.875 l1.516,0.875 v0.875" fill="none" stroke="#5583c0" stroke-width="0.68"/></pattern><pattern id="io2" patternUnits="userSpaceOnUse" width="24.249" height="26.250" patternTransform="rotate(14)"><path d="M0.000,0.000 v0.875 l1.516,0.875 l1.516,-0.875 v-0.875 M1.516,1.750 v1.750 M0.000,5.250 v-0.875 l1.516,-0.875 l1.516,0.875 v0.875M3.031,0.000 v0.875 l1.516,0.875 l1.516,-0.875 v-0.875 M4.547,1.750 v1.750 M3.031,5.250 v-0.875 l1.516,-0.875 l1.516,0.875 v0.875M6.062,0.000 v0.875 l1.516,0.875 l1.516,-0.875 v-0.875 M7.578,1.750 v1.750 M6.062,5.250 v-0.875 l1.516,-0.875 l1.516,0.875 v0.875M9.093,0.000 v0.875 l1.516,0.875 l1.516,-0.875 v-0.875 M10.609,1.750 v1.750 M9.093,5.250 v-0.875 l1.516,-0.875 l1.516,0.875 v0.875M12.124,0.000 v0.875 l1.516,0.875 l1.516,-0.875 v-0.875 M13.640,1.750 v1.750 M12.124,5.250 v-0.875 l1.516,-0.875 l1.516,0.875 v0.875M15.155,0.000 v0.875 l1.516,0.875 l1.516,-0.875 v-0.875 M16.671,1.750 v1.750 M15.155,5.250 v-0.875 l1.516,-0.875 l1.516,0.875 v0.875M18.187,0.000 v0.875 l1.516,0.875 l1.516,-0.875 v-0.875 M19.702,1.750 v1.750 M18.187,5.250 v-0.875 l1.516,-0.875 l1.516,0.875 v0.875M21.218,0.000 v0.875 l1.516,0.875 l1.516,-0.875 v-0.875 M22.733,1.750 v1.750 M21.218,5.250 v-0.875 l1.516,-0.875 l1.516,0.875 v0.875M0.000,5.250 v0.875 l1.516,0.875 l1.516,-0.875 v-0.875 M1.516,7.000 v1.750 M0.000,10.500 v-0.875 l1.516,-0.875 l1.516,0.875 v0.875M3.031,5.250 v0.875 l1.516,0.875 l1.516,-0.875 v-0.875 M4.547,7.000 v1.750 M3.031,10.500 v-0.875 l1.516,-0.875 l1.516,0.875 v0.875M6.062,5.250 v0.875 l1.516,0.875 l1.516,-0.875 v-0.875 M7.578,7.000 v1.750 M6.062,10.500 v-0.875 l1.516,-0.875 l1.516,0.875 v0.875M9.093,5.250 v0.875 l1.516,0.875 l1.516,-0.875 v-0.875 M10.609,7.000 v1.750 M9.093,10.500 v-0.875 l1.516,-0.875 l1.516,0.875 v0.875M12.124,5.250 v0.875 l1.516,0.875 l1.516,-0.875 v-0.875 M13.640,7.000 v1.750 M12.124,10.500 v-0.875 l1.516,-0.875 l1.516,0.875 v0.875M15.155,5.250 v0.875 l1.516,0.875 l1.516,-0.875 v-0.875 M16.671,7.000 v1.750 M15.155,10.500 v-0.875 l1.516,-0.875 l1.516,0.875 v0.875M18.187,5.250 v0.875 l1.516,0.875 l1.516,-0.875 v-0.875 M19.702,7.000 v1.750 M18.187,10.500 v-0.875 l1.516,-0.875 l1.516,0.875 v0.875M21.218,5.250 v0.875 l1.516,0.875 l1.516,-0.875 v-0.875 M22.733,7.000 v1.750 M21.218,10.500 v-0.875 l1.516,-0.875 l1.516,0.875 v0.875M0.000,10.500 v0.875 l1.516,0.875 l1.516,-0.875 v-0.875 M1.516,12.250 v1.750 M0.000,15.750 v-0.875 l1.516,-0.875 l1.516,0.875 v0.875M3.031,10.500 v0.875 l1.516,0.875 l1.516,-0.875 v-0.875 M4.547,12.250 v1.750 M3.031,15.750 v-0.875 l1.516,-0.875 l1.516,0.875 v0.875M6.062,10.500 v0.875 l1.516,0.875 l1.516,-0.875 v-0.875 M7.578,12.250 v1.750 M6.062,15.750 v-0.875 l1.516,-0.875 l1.516,0.875 v0.875M9.093,10.500 v0.875 l1.516,0.875 l1.516,-0.875 v-0.875 M10.609,12.250 v1.750 M9.093,15.750 v-0.875 l1.516,-0.875 l1.516,0.875 v0.875M12.124,10.500 v0.875 l1.516,0.875 l1.516,-0.875 v-0.875 M13.640,12.250 v1.750 M12.124,15.750 v-0.875 l1.516,-0.875 l1.516,0.875 v0.875M15.155,10.500 v0.875 l1.516,0.875 l1.516,-0.875 v-0.875 M16.671,12.250 v1.750 M15.155,15.750 v-0.875 l1.516,-0.875 l1.516,0.875 v0.875M18.187,10.500 v0.875 l1.516,0.875 l1.516,-0.875 v-0.875 M19.702,12.250 v1.750 M18.187,15.750 v-0.875 l1.516,-0.875 l1.516,0.875 v0.875M21.218,10.500 v0.875 l1.516,0.875 l1.516,-0.875 v-0.875 M22.733,12.250 v1.750 M21.218,15.750 v-0.875 l1.516,-0.875 l1.516,0.875 v0.875M0.000,15.750 v0.875 l1.516,0.875 l1.516,-0.875 v-0.875 M1.516,17.500 v1.750 M0.000,21.000 v-0.875 l1.516,-0.875 l1.516,0.875 v0.875M3.031,15.750 v0.875 l1.516,0.875 l1.516,-0.875 v-0.875 M4.547,17.500 v1.750 M3.031,21.000 v-0.875 l1.516,-0.875 l1.516,0.875 v0.875M6.062,15.750 v0.875 l1.516,0.875 l1.516,-0.875 v-0.875 M7.578,17.500 v1.750 M6.062,21.000 v-0.875 l1.516,-0.875 l1.516,0.875 v0.875M9.093,15.750 v0.875 l1.516,0.875 l1.516,-0.875 v-0.875 M10.609,17.500 v1.750 M9.093,21.000 v-0.875 l1.516,-0.875 l1.516,0.875 v0.875M12.124,15.750 v0.875 l1.516,0.875 l1.516,-0.875 v-0.875 M13.640,17.500 v1.750 M12.124,21.000 v-0.875 l1.516,-0.875 l1.516,0.875 v0.875M15.155,15.750 v0.875 l1.516,0.875 l1.516,-0.875 v-0.875 M16.671,17.500 v1.750 M15.155,21.000 v-0.875 l1.516,-0.875 l1.516,0.875 v0.875M18.187,15.750 v0.875 l1.516,0.875 l1.516,-0.875 v-0.875 M19.702,17.500 v1.750 M18.187,21.000 v-0.875 l1.516,-0.875 l1.516,0.875 v0.875M21.218,15.750 v0.875 l1.516,0.875 l1.516,-0.875 v-0.875 M22.733,17.500 v1.750 M21.218,21.000 v-0.875 l1.516,-0.875 l1.516,0.875 v0.875M0.000,21.000 v0.875 l1.516,0.875 l1.516,-0.875 v-0.875 M1.516,22.750 v1.750 M0.000,26.250 v-0.875 l1.516,-0.875 l1.516,0.875 v0.875M3.031,21.000 v0.875 l1.516,0.875 l1.516,-0.875 v-0.875 M4.547,22.750 v1.750 M3.031,26.250 v-0.875 l1.516,-0.875 l1.516,0.875 v0.875M6.062,21.000 v0.875 l1.516,0.875 l1.516,-0.875 v-0.875 M7.578,22.750 v1.750 M6.062,26.250 v-0.875 l1.516,-0.875 l1.516,0.875 v0.875M9.093,21.000 v0.875 l1.516,0.875 l1.516,-0.875 v-0.875 M10.609,22.750 v1.750 M9.093,26.250 v-0.875 l1.516,-0.875 l1.516,0.875 v0.875M12.124,21.000 v0.875 l1.516,0.875 l1.516,-0.875 v-0.875 M13.640,22.750 v1.750 M12.124,26.250 v-0.875 l1.516,-0.875 l1.516,0.875 v0.875M15.155,21.000 v0.875 l1.516,0.875 l1.516,-0.875 v-0.875 M16.671,22.750 v1.750 M15.155,26.250 v-0.875 l1.516,-0.875 l1.516,0.875 v0.875M18.187,21.000 v0.875 l1.516,0.875 l1.516,-0.875 v-0.875 M19.702,22.750 v1.750 M18.187,26.250 v-0.875 l1.516,-0.875 l1.516,0.875 v0.875M21.218,21.000 v0.875 l1.516,0.875 l1.516,-0.875 v-0.875 M22.733,22.750 v1.750 M21.218,26.250 v-0.875 l1.516,-0.875 l1.516,0.875 v0.875" fill="none" stroke="#f09050" stroke-width="0.38"/></pattern></defs><rect width="685" height="458" fill="#fff"/><rect x="43.5" y="13.5" width="252.5" height="174.5" fill="#fff"/>
<rect x="43.5" y="13.5" width="252.5" height="174.5" fill="url(#pb)" stroke="#8a8a9a" stroke-width="1"/>
<path d="M176.3,45.8 L220.8,79 L216.5,133 L164,155.2 L119.9,122.5 L124.8,67.7 Z" fill="url(#pr)"/>
<path d="M176.3,45.8 L220.8,79 L216.5,133 L164,155.2 L119.9,122.5 L124.8,67.7 Z" fill="none" stroke="#ff0a0a" stroke-width="1.3"/>
<path d="M225.1,96.6 L237.9,96.6 L237.9,92.2 L251,98.6 L237.9,105 L237.9,100.7 L225.1,100.7 Z" fill="#c00000"/>
<text x="58.20" y="52.00" font-size="14.3" text-anchor="start" font-weight="bold" font-style="normal" fill="#000" ><tspan font-style="italic">θ</tspan> =11.64°</text>
<text x="8.60" y="21.00" font-size="18" text-anchor="start" font-weight="bold" font-style="normal" fill="#000" >a</text>
<defs><clipPath id="cb"><rect x="403.1" y="15.0" width="232.79999999999995" height="169.3"/></clipPath></defs>
<circle cx="443.5" cy="81.6" r="35" fill="url(#ib)"/>
<circle cx="443.5" cy="81.6" r="35" fill="url(#io)"/>
<circle cx="584.1" cy="119.3" r="35" fill="url(#ib2)"/>
<circle cx="584.1" cy="119.3" r="35" fill="url(#io2)"/>
<text x="423.00" y="134.40" font-size="13" text-anchor="start" font-weight="normal" font-style="normal" fill="#000" ><tspan font-style="italic">θ</tspan> =10°</text>
<text x="572.80" y="172.20" font-size="13" text-anchor="start" font-weight="normal" font-style="normal" fill="#000" ><tspan font-style="italic">θ</tspan> =14°</text>
<path d="M480.70,37.53 L506.15,101.73 L511.74,134.81 L535.02,167.76" fill="none" stroke="#1f77b4" stroke-width="2.1" stroke-dasharray="6.6 2.9"/>
<circle cx="480.70" cy="37.53" r="6.1" fill="#1f77b4"/>
<circle cx="506.15" cy="101.73" r="6.1" fill="#1f77b4"/>
<circle cx="511.74" cy="134.81" r="6.1" fill="#1f77b4"/>
<circle cx="535.02" cy="167.76" r="6.1" fill="#1f77b4"/>
<path d="M403.10,173.48 L406.98,170.76 L410.86,168.04 L414.74,165.32 L418.62,162.60 L422.50,159.88 L426.38,157.16 L430.26,154.44 L434.14,151.73 L438.02,149.01 L441.90,146.29 L445.78,143.57 L449.66,140.86 L453.54,138.14 L457.42,135.43 L461.30,132.71 L465.18,130.00 L469.06,127.28 L472.94,124.57 L476.82,121.85 L480.70,119.14 L484.58,116.43 L488.46,113.72 L492.34,111.00 L496.22,108.29 L500.10,105.58 L503.98,102.87 L507.86,100.16 L511.74,97.46 L515.62,94.75 L519.50,92.04 L523.38,89.33 L527.26,86.63 L531.14,83.92 L535.02,81.22 L538.90,78.52 L542.78,75.81 L546.66,73.11 L550.54,70.41 L554.42,67.71 L558.30,65.01 L562.18,62.31 L566.06,59.61 L569.94,56.91 L573.82,54.21 L577.70,51.52 L581.58,48.82 L585.46,46.13 L589.34,43.43 L593.22,40.74 L597.10,38.05 L600.98,35.36 L604.86,32.67 L608.74,29.98 L612.62,27.29 L616.50,24.60 L620.38,21.92 L624.26,19.23 L628.14,16.55" fill="none" stroke="#2ca02c" stroke-width="1.9" stroke-dasharray="6.4 2.8" clip-path="url(#cb)"/>
<path d="M460.6,31.9 L425.8,31.9 L425.8,33.7 L419.8,30.9 L425.8,28.1 L425.8,29.9 L460.6,29.9 Z" fill="#0068be"/>
<path d="M582,55.25 L617.3,55.25 L617.3,53.2 L623.2,56.4 L617.3,59.6 L617.3,57.55 L582,57.55 Z" fill="#008000"/>
<rect x="403.1" y="15.0" width="232.79999999999995" height="169.3" fill="none" stroke="#000" stroke-width="1.6"/>
<line x1="403.10" y1="184.30" x2="403.10" y2="187.60" stroke="#000" stroke-width="1.6" />
<line x1="418.62" y1="184.30" x2="418.62" y2="190.60" stroke="#000" stroke-width="1.6" />
<text x="418.62" y="206.60" font-size="14" text-anchor="middle" font-weight="normal" font-style="normal" fill="#000" >6</text>
<line x1="434.14" y1="184.30" x2="434.14" y2="187.60" stroke="#000" stroke-width="1.6" />
<line x1="449.66" y1="184.30" x2="449.66" y2="190.60" stroke="#000" stroke-width="1.6" />
<text x="449.66" y="206.60" font-size="14" text-anchor="middle" font-weight="normal" font-style="normal" fill="#000" >8</text>
<line x1="465.18" y1="184.30" x2="465.18" y2="187.60" stroke="#000" stroke-width="1.6" />
<line x1="480.70" y1="184.30" x2="480.70" y2="190.60" stroke="#000" stroke-width="1.6" />
<text x="480.70" y="206.60" font-size="14" text-anchor="middle" font-weight="normal" font-style="normal" fill="#000" >10</text>
<line x1="496.22" y1="184.30" x2="496.22" y2="187.60" stroke="#000" stroke-width="1.6" />
<line x1="511.74" y1="184.30" x2="511.74" y2="190.60" stroke="#000" stroke-width="1.6" />
<text x="511.74" y="206.60" font-size="14" text-anchor="middle" font-weight="normal" font-style="normal" fill="#000" >12</text>
<line x1="527.26" y1="184.30" x2="527.26" y2="187.60" stroke="#000" stroke-width="1.6" />
<line x1="542.78" y1="184.30" x2="542.78" y2="190.60" stroke="#000" stroke-width="1.6" />
<text x="542.78" y="206.60" font-size="14" text-anchor="middle" font-weight="normal" font-style="normal" fill="#000" >14</text>
<line x1="558.30" y1="184.30" x2="558.30" y2="187.60" stroke="#000" stroke-width="1.6" />
<line x1="573.82" y1="184.30" x2="573.82" y2="190.60" stroke="#000" stroke-width="1.6" />
<text x="573.82" y="206.60" font-size="14" text-anchor="middle" font-weight="normal" font-style="normal" fill="#000" >16</text>
<line x1="589.34" y1="184.30" x2="589.34" y2="187.60" stroke="#000" stroke-width="1.6" />
<line x1="604.86" y1="184.30" x2="604.86" y2="190.60" stroke="#000" stroke-width="1.6" />
<text x="604.86" y="206.60" font-size="14" text-anchor="middle" font-weight="normal" font-style="normal" fill="#000" >18</text>
<line x1="620.38" y1="184.30" x2="620.38" y2="187.60" stroke="#000" stroke-width="1.6" />
<line x1="635.90" y1="184.30" x2="635.90" y2="190.60" stroke="#000" stroke-width="1.6" />
<text x="635.90" y="206.60" font-size="14" text-anchor="middle" font-weight="normal" font-style="normal" fill="#000" >20</text>
<line x1="396.80" y1="177.79" x2="403.10" y2="177.79" stroke="#000" stroke-width="1.6" />
<text x="391.00" y="182.79" font-size="14" text-anchor="end" font-weight="normal" font-style="normal" fill="#000" >0.25</text>
<line x1="396.80" y1="145.23" x2="403.10" y2="145.23" stroke="#000" stroke-width="1.6" />
<text x="391.00" y="150.23" font-size="14" text-anchor="end" font-weight="normal" font-style="normal" fill="#000" >0.50</text>
<line x1="396.80" y1="112.67" x2="403.10" y2="112.67" stroke="#000" stroke-width="1.6" />
<text x="391.00" y="117.67" font-size="14" text-anchor="end" font-weight="normal" font-style="normal" fill="#000" >0.75</text>
<line x1="396.80" y1="80.12" x2="403.10" y2="80.12" stroke="#000" stroke-width="1.6" />
<text x="391.00" y="85.12" font-size="14" text-anchor="end" font-weight="normal" font-style="normal" fill="#000" >1.00</text>
<line x1="396.80" y1="47.56" x2="403.10" y2="47.56" stroke="#000" stroke-width="1.6" />
<text x="391.00" y="52.56" font-size="14" text-anchor="end" font-weight="normal" font-style="normal" fill="#000" >1.25</text>
<line x1="396.80" y1="15.00" x2="403.10" y2="15.00" stroke="#000" stroke-width="1.6" />
<text x="391.00" y="20.00" font-size="14" text-anchor="end" font-weight="normal" font-style="normal" fill="#000" >1.50</text>
<line x1="635.90" y1="184.30" x2="642.20" y2="184.30" stroke="#000" stroke-width="1.6" />
<text x="647.50" y="189.30" font-size="14" text-anchor="start" font-weight="normal" font-style="normal" fill="#000" >0.2</text>
<line x1="635.90" y1="141.97" x2="642.20" y2="141.97" stroke="#000" stroke-width="1.6" />
<text x="647.50" y="146.97" font-size="14" text-anchor="start" font-weight="normal" font-style="normal" fill="#000" >0.4</text>
<line x1="635.90" y1="99.65" x2="642.20" y2="99.65" stroke="#000" stroke-width="1.6" />
<text x="647.50" y="104.65" font-size="14" text-anchor="start" font-weight="normal" font-style="normal" fill="#000" >0.6</text>
<line x1="635.90" y1="57.32" x2="642.20" y2="57.32" stroke="#000" stroke-width="1.6" />
<text x="647.50" y="62.32" font-size="14" text-anchor="start" font-weight="normal" font-style="normal" fill="#000" >0.8</text>
<line x1="635.90" y1="15.00" x2="642.20" y2="15.00" stroke="#000" stroke-width="1.6" />
<text x="647.50" y="20.00" font-size="14" text-anchor="start" font-weight="normal" font-style="normal" fill="#000" >1.0</text>
<text x="404.00" y="10.00" font-size="14" text-anchor="start" font-weight="normal" font-style="normal" fill="#000" >1e−2</text>
<text x="519.60" y="221.10" font-size="14" text-anchor="middle" font-weight="normal" font-style="normal" fill="#000" >Twist angle (degree)</text>
<text x="359.60" y="102.30" font-size="14.4" text-anchor="middle" font-weight="normal" font-style="normal" fill="#000" transform="rotate(-90 359.6 102.3)">Coefficient of friction COF</text>
<text x="683.8" y="190.6" font-size="14" transform="rotate(-90 683.8 190.6)"><tspan x="683.80" >Moiré wavevector</tspan><tspan x="799.20" font-style="italic">q</tspan><tspan x="805.80" font-size="15">(</tspan><tspan x="811.30" font-style="italic">θ</tspan><tspan x="820.80" font-size="15">)</tspan><tspan x="826.90" font-size="15">(</tspan><tspan x="834.90" font-style="italic">Å</tspan><tspan x="844.40" font-size="11" dy="-5.5">−</tspan><tspan x="852.20" font-size="11">1</tspan><tspan x="858.90" font-size="15" dy="5.5">)</tspan></text>
<text x="328.00" y="21.00" font-size="18.5" text-anchor="start" font-weight="bold" font-style="normal" fill="#000" >b</text>
<defs><clipPath id="cc"><rect x="43.4" y="245.8" width="331.40000000000003" height="170.8"/></clipPath></defs>
<line x1="147.50" y1="245.80" x2="147.50" y2="416.60" stroke="#707070" stroke-width="0.95" stroke-dasharray="2.9 1.2"/>
<path d="M41.50,326.40 L42.00,326.44 L42.50,326.57 L43.00,326.79 L43.50,327.08 L44.00,327.45 L44.50,327.90 L45.00,328.41 L45.50,328.98 L46.00,329.60 L46.50,330.27 L47.00,330.96 L47.50,331.69 L48.00,332.43 L48.50,333.17 L49.00,333.91 L49.50,334.64 L50.00,335.33 L50.50,336.00 L51.00,336.62 L51.50,337.19 L52.00,337.70 L52.50,338.15 L53.00,338.52 L53.50,338.81 L54.00,339.03 L54.50,339.16 L55.00,339.20 L55.50,339.07 L56.00,338.70 L56.50,338.08 L57.00,337.24 L57.50,336.17 L58.00,334.91 L58.50,333.47 L59.00,331.88 L59.50,330.16 L60.00,328.34 L60.50,326.46 L61.00,324.55 L61.50,322.64 L62.00,320.76 L62.50,318.94 L63.00,317.22 L63.50,315.63 L64.00,314.19 L64.50,312.93 L65.00,311.86 L65.50,311.02 L66.00,310.40 L66.50,310.03 L67.00,309.90 L67.51,310.07 L68.02,310.57 L68.53,311.39 L69.05,312.53 L69.56,313.96 L70.07,315.67 L70.58,317.63 L71.09,319.81 L71.60,322.18 L72.12,324.71 L72.63,327.36 L73.14,330.08 L73.65,332.85 L74.16,335.62 L74.67,338.34 L75.18,340.99 L75.70,343.52 L76.21,345.89 L76.72,348.07 L77.23,350.03 L77.74,351.74 L78.25,353.17 L78.77,354.31 L79.28,355.13 L79.79,355.63 L80.30,355.80 L80.81,355.58 L81.32,354.92 L81.82,353.82 L82.33,352.32 L82.84,350.42 L83.35,348.15 L83.85,345.56 L84.36,342.67 L84.87,339.53 L85.38,336.18 L85.88,332.68 L86.39,329.06 L86.90,325.40 L87.41,321.74 L87.92,318.12 L88.42,314.62 L88.93,311.27 L89.44,308.13 L89.95,305.24 L90.45,302.65 L90.96,300.38 L91.47,298.48 L91.98,296.98 L92.48,295.88 L92.99,295.22 L93.50,295.00 L94.01,295.23 L94.52,295.90 L95.03,297.02 L95.54,298.57 L96.05,300.52 L96.56,302.85 L97.08,305.54 L97.59,308.55 L98.10,311.85 L98.61,315.38 L99.12,319.11 L99.63,322.99 L100.14,326.97 L100.65,331.00 L101.16,335.03 L101.67,339.01 L102.18,342.89 L102.69,346.62 L103.20,350.15 L103.71,353.45 L104.22,356.46 L104.74,359.15 L105.25,361.48 L105.76,363.43 L106.27,364.98 L106.78,366.10 L107.29,366.77 L107.80,367.00 L108.30,366.70 L108.81,365.79 L109.31,364.30 L109.82,362.23 L110.32,359.64 L110.82,356.54 L111.33,352.99 L111.83,349.03 L112.33,344.73 L112.84,340.15 L113.34,335.36 L113.85,330.41 L114.35,325.40 L114.85,320.39 L115.36,315.44 L115.86,310.65 L116.37,306.07 L116.87,301.77 L117.37,297.81 L117.88,294.26 L118.38,291.16 L118.88,288.57 L119.39,286.50 L119.89,285.01 L120.40,284.10 L120.90,283.80 L121.41,284.10 L121.91,284.99 L122.42,286.46 L122.93,288.49 L123.44,291.06 L123.94,294.13 L124.45,297.67 L124.96,301.63 L125.46,305.96 L125.97,310.61 L126.48,315.51 L126.99,320.61 L127.49,325.85 L128.00,331.15 L128.51,336.45 L129.01,341.69 L129.52,346.79 L130.03,351.69 L130.54,356.34 L131.04,360.67 L131.55,364.63 L132.06,368.17 L132.56,371.24 L133.07,373.81 L133.58,375.84 L134.09,377.31 L134.59,378.20 L135.10,378.50 L135.60,378.08 L136.11,376.83 L136.61,374.77 L137.12,371.94 L137.62,368.37 L138.12,364.15 L138.63,359.33 L139.13,354.00 L139.64,348.25 L140.14,342.18 L140.65,335.90 L141.15,329.50 L141.65,323.10 L142.16,316.82 L142.66,310.75 L143.17,305.00 L143.67,299.67 L144.17,294.85 L144.68,290.63 L145.18,287.06 L145.69,284.23 L146.19,282.17 L146.70,280.92 L147.20,280.50 L147.71,280.82 L148.22,281.79 L148.73,283.38 L149.24,285.59 L149.75,288.37 L150.26,291.70 L150.77,295.54 L151.29,299.83 L151.80,304.53 L152.31,309.57 L152.82,314.89 L153.33,320.42 L153.84,326.10 L154.35,331.85 L154.86,337.60 L155.37,343.28 L155.88,348.81 L156.39,354.13 L156.90,359.17 L157.41,363.87 L157.93,368.16 L158.44,372.00 L158.95,375.33 L159.46,378.11 L159.97,380.32 L160.48,381.91 L160.99,382.88 L161.50,383.20 L162.01,382.83 L162.52,381.74 L163.03,379.93 L163.55,377.44 L164.06,374.30 L164.57,370.55 L165.08,366.26 L165.59,361.47 L166.10,356.28 L166.62,350.74 L167.13,344.94 L167.64,338.96 L168.15,332.90 L168.66,326.84 L169.17,320.86 L169.68,315.06 L170.20,309.52 L170.71,304.33 L171.22,299.54 L171.73,295.25 L172.24,291.50 L172.75,288.36 L173.27,285.87 L173.78,284.06 L174.29,282.97 L174.80,282.60 L175.30,282.89 L175.80,283.74 L176.30,285.15 L176.80,287.10 L177.30,289.57 L177.80,292.53 L178.30,295.94 L178.80,299.77 L179.30,303.97 L179.80,308.49 L180.30,313.27 L180.80,318.27 L181.30,323.42 L181.80,328.66 L182.30,333.94 L182.80,339.18 L183.30,344.33 L183.80,349.33 L184.30,354.11 L184.80,358.63 L185.30,362.83 L185.80,366.66 L186.30,370.07 L186.80,373.03 L187.30,375.50 L187.80,377.45 L188.30,378.86 L188.80,379.71 L189.30,380.00 L189.80,379.65 L190.30,378.59 L190.80,376.85 L191.30,374.46 L191.80,371.44 L192.30,367.86 L192.80,363.76 L193.30,359.21 L193.80,354.27 L194.30,349.04 L194.80,343.59 L195.30,338.01 L195.80,332.39 L196.30,326.81 L196.80,321.36 L197.30,316.13 L197.80,311.19 L198.30,306.64 L198.80,302.54 L199.30,298.96 L199.80,295.94 L200.30,293.55 L200.80,291.81 L201.30,290.75 L201.80,290.40 L202.31,290.68 L202.83,291.50 L203.34,292.87 L203.86,294.75 L204.37,297.13 L204.89,299.97 L205.40,303.23 L205.92,306.88 L206.43,310.85 L206.95,315.10 L207.46,319.57 L207.98,324.20 L208.49,328.92 L209.01,333.68 L209.52,338.40 L210.04,343.03 L210.55,347.50 L211.07,351.75 L211.58,355.72 L212.10,359.37 L212.61,362.63 L213.13,365.47 L213.64,367.85 L214.16,369.73 L214.67,371.10 L215.19,371.92 L215.70,372.20 L216.20,371.95 L216.71,371.20 L217.21,369.97 L217.72,368.27 L218.22,366.12 L218.72,363.56 L219.23,360.63 L219.73,357.36 L220.23,353.81 L220.74,350.03 L221.24,346.07 L221.75,341.99 L222.25,337.85 L222.75,333.71 L223.26,329.63 L223.76,325.67 L224.27,321.89 L224.77,318.34 L225.27,315.07 L225.78,312.14 L226.28,309.58 L226.78,307.43 L227.29,305.73 L227.79,304.50 L228.30,303.75 L228.80,303.50 L229.30,303.68 L229.80,304.20 L230.30,305.08 L230.80,306.28 L231.30,307.80 L231.80,309.62 L232.30,311.70 L232.80,314.03 L233.30,316.57 L233.80,319.29 L234.30,322.15 L234.80,325.11 L235.30,328.13 L235.80,331.17 L236.30,334.19 L236.80,337.15 L237.30,340.01 L237.80,342.73 L238.30,345.27 L238.80,347.60 L239.30,349.68 L239.80,351.50 L240.30,353.02 L240.80,354.22 L241.30,355.10 L241.80,355.62 L242.30,355.80 L242.81,355.67 L243.32,355.28 L243.83,354.63 L244.35,353.73 L244.86,352.60 L245.37,351.26 L245.88,349.72 L246.39,348.00 L246.90,346.14 L247.42,344.15 L247.93,342.07 L248.44,339.93 L248.95,337.75 L249.46,335.57 L249.97,333.43 L250.48,331.35 L251.00,329.36 L251.51,327.50 L252.02,325.78 L252.53,324.24 L253.04,322.90 L253.55,321.77 L254.07,320.87 L254.58,320.22 L255.09,319.83 L255.60,319.70 L256.11,319.79 L256.63,320.08 L257.14,320.54 L257.66,321.18 L258.17,321.97 L258.69,322.90 L259.20,323.95 L259.71,325.09 L260.23,326.31 L260.74,327.56 L261.26,328.84 L261.77,330.09 L262.29,331.31 L262.80,332.45 L263.31,333.50 L263.83,334.43 L264.34,335.22 L264.86,335.86 L265.37,336.32 L265.89,336.61 L266.40,336.70 L266.90,336.64 L267.40,336.48 L267.90,336.20 L268.40,335.82 L268.90,335.35 L269.40,334.80 L269.90,334.18 L270.40,333.49 L270.90,332.77 L271.40,332.03 L271.90,331.27 L272.40,330.53 L272.90,329.81 L273.40,329.12 L273.90,328.50 L274.40,327.95 L274.90,327.48 L275.40,327.10 L275.90,326.82 L276.40,326.66 L276.90,326.60 L277.42,326.70 L277.93,326.99 L278.45,327.46 L278.97,328.11 L279.48,328.90 L280.00,329.82 L280.52,330.84 L281.03,331.93 L281.55,333.05 L282.07,334.17 L282.58,335.26 L283.10,336.27 L283.62,337.20 L284.13,337.99 L284.65,338.64 L285.17,339.11 L285.68,339.40 L286.20,339.50 L286.72,339.39 L287.23,339.06 L287.75,338.52 L288.26,337.77 L288.78,336.83 L289.29,335.70 L289.81,334.41 L290.32,332.98 L290.84,331.42 L291.35,329.75 L291.87,328.01 L292.38,326.22 L292.90,324.40 L293.42,322.58 L293.93,320.79 L294.45,319.05 L294.96,317.38 L295.48,315.82 L295.99,314.39 L296.51,313.10 L297.02,311.97 L297.54,311.03 L298.05,310.28 L298.57,309.74 L299.08,309.41 L299.60,309.30 L300.10,309.47 L300.61,309.97 L301.11,310.79 L301.62,311.92 L302.12,313.35 L302.62,315.06 L303.13,317.01 L303.63,319.19 L304.13,321.56 L304.64,324.08 L305.14,326.72 L305.65,329.44 L306.15,332.20 L306.65,334.96 L307.16,337.68 L307.66,340.32 L308.17,342.84 L308.67,345.21 L309.17,347.39 L309.68,349.34 L310.18,351.05 L310.68,352.48 L311.19,353.61 L311.69,354.43 L312.20,354.93 L312.70,355.10 L313.20,354.88 L313.71,354.23 L314.21,353.16 L314.72,351.69 L315.22,349.82 L315.72,347.61 L316.23,345.06 L316.73,342.23 L317.23,339.15 L317.74,335.87 L318.24,332.43 L318.75,328.89 L319.25,325.30 L319.75,321.71 L320.26,318.17 L320.76,314.73 L321.27,311.45 L321.77,308.37 L322.27,305.54 L322.78,302.99 L323.28,300.78 L323.78,298.91 L324.29,297.44 L324.79,296.37 L325.30,295.72 L325.80,295.50 L326.31,295.75 L326.82,296.50 L327.33,297.73 L327.84,299.44 L328.36,301.60 L328.87,304.17 L329.38,307.12 L329.89,310.43 L330.40,314.02 L330.91,317.88 L331.42,321.92 L331.93,326.12 L332.44,330.40 L332.96,334.70 L333.47,338.98 L333.98,343.18 L334.49,347.22 L335.00,351.07 L335.51,354.67 L336.02,357.98 L336.53,360.93 L337.04,363.50 L337.56,365.66 L338.07,367.37 L338.58,368.60 L339.09,369.35 L339.60,369.60 L340.10,369.28 L340.61,368.34 L341.11,366.79 L341.62,364.65 L342.12,361.94 L342.62,358.72 L343.13,355.03 L343.63,350.92 L344.13,346.45 L344.64,341.69 L345.14,336.70 L345.65,331.56 L346.15,326.35 L346.65,321.14 L347.16,316.00 L347.66,311.01 L348.17,306.25 L348.67,301.78 L349.17,297.67 L349.68,293.98 L350.18,290.76 L350.68,288.05 L351.19,285.91 L351.69,284.36 L352.20,283.42 L352.70,283.10 L353.20,283.38 L353.70,284.22 L354.20,285.60 L354.70,287.52 L355.20,289.94 L355.70,292.85 L356.20,296.20 L356.70,299.95 L357.20,304.08 L357.70,308.51 L358.20,313.21 L358.70,318.11 L359.20,323.17 L359.70,328.31 L360.20,333.49 L360.70,338.63 L361.20,343.69 L361.70,348.59 L362.20,353.29 L362.70,357.72 L363.20,361.85 L363.70,365.60 L364.20,368.95 L364.70,371.86 L365.20,374.28 L365.70,376.20 L366.20,377.58 L366.70,378.42 L367.20,378.70 L367.70,378.23 L368.21,376.83 L368.71,374.53 L369.22,371.37 L369.72,367.41 L370.23,362.72 L370.73,357.39 L371.23,351.51 L371.74,345.21 L372.24,338.59 L372.75,331.79 L373.25,324.91 L373.76,318.11 L374.26,311.49 L374.77,305.19 L375.27,299.31 L375.77,293.98 L376.28,289.29 L376.78,285.33 L377.29,282.17 L377.79,279.87 L378.30,278.47 L378.80,278.00" fill="none" stroke="#1f77b4" stroke-width="2.1" stroke-linejoin="round" clip-path="url(#cc)"/>
<path d="M39.80,318.30 L40.32,318.40 L40.83,318.70 L41.35,319.19 L41.86,319.86 L42.38,320.72 L42.89,321.73 L43.41,322.90 L43.92,324.20 L44.44,325.61 L44.95,327.11 L45.47,328.68 L45.98,330.30 L46.50,331.95 L47.02,333.60 L47.53,335.22 L48.05,336.79 L48.56,338.29 L49.08,339.70 L49.59,341.00 L50.11,342.17 L50.62,343.18 L51.14,344.04 L51.65,344.71 L52.17,345.20 L52.68,345.50 L53.20,345.60 L53.71,345.46 L54.22,345.05 L54.73,344.38 L55.24,343.44 L55.76,342.26 L56.27,340.85 L56.78,339.23 L57.29,337.42 L57.80,335.45 L58.31,333.34 L58.82,331.12 L59.33,328.83 L59.84,326.48 L60.36,324.12 L60.87,321.77 L61.38,319.48 L61.89,317.26 L62.40,315.15 L62.91,313.18 L63.42,311.37 L63.93,309.75 L64.44,308.34 L64.96,307.16 L65.47,306.22 L65.98,305.55 L66.49,305.14 L67.00,305.00 L67.51,305.19 L68.02,305.77 L68.53,306.72 L69.05,308.03 L69.56,309.68 L70.07,311.65 L70.58,313.91 L71.09,316.42 L71.60,319.16 L72.12,322.07 L72.63,325.12 L73.14,328.26 L73.65,331.45 L74.16,334.64 L74.67,337.78 L75.18,340.83 L75.70,343.74 L76.21,346.48 L76.72,348.99 L77.23,351.25 L77.74,353.22 L78.25,354.87 L78.77,356.18 L79.28,357.13 L79.79,357.71 L80.30,357.90 L80.80,357.66 L81.31,356.96 L81.81,355.79 L82.32,354.18 L82.82,352.15 L83.32,349.73 L83.83,346.95 L84.33,343.86 L84.83,340.50 L85.34,336.92 L85.84,333.18 L86.35,329.32 L86.85,325.40 L87.35,321.48 L87.86,317.62 L88.36,313.88 L88.87,310.30 L89.37,306.94 L89.87,303.85 L90.38,301.07 L90.88,298.65 L91.38,296.62 L91.89,295.01 L92.39,293.84 L92.90,293.14 L93.40,292.90 L93.91,293.14 L94.43,293.86 L94.94,295.05 L95.46,296.69 L95.97,298.77 L96.49,301.26 L97.00,304.12 L97.51,307.32 L98.03,310.82 L98.54,314.58 L99.06,318.55 L99.57,322.68 L100.09,326.91 L100.60,331.20 L101.11,335.49 L101.63,339.72 L102.14,343.85 L102.66,347.82 L103.17,351.58 L103.69,355.08 L104.20,358.28 L104.71,361.14 L105.23,363.63 L105.74,365.71 L106.26,367.35 L106.77,368.54 L107.29,369.26 L107.80,369.50 L108.30,369.20 L108.80,368.31 L109.30,366.83 L109.80,364.79 L110.30,362.22 L110.80,359.16 L111.30,355.65 L111.80,351.75 L112.30,347.50 L112.80,342.97 L113.30,338.24 L113.80,333.35 L114.30,328.40 L114.80,323.45 L115.30,318.56 L115.80,313.83 L116.30,309.30 L116.80,305.05 L117.30,301.15 L117.80,297.64 L118.30,294.58 L118.80,292.01 L119.30,289.97 L119.80,288.49 L120.30,287.60 L120.80,287.30 L121.31,287.58 L121.82,288.40 L122.33,289.76 L122.84,291.64 L123.35,294.01 L123.86,296.86 L124.38,300.13 L124.89,303.79 L125.40,307.80 L125.91,312.10 L126.42,316.63 L126.93,321.35 L127.44,326.20 L127.95,331.10 L128.46,336.00 L128.97,340.85 L129.48,345.57 L129.99,350.10 L130.50,354.40 L131.01,358.41 L131.53,362.07 L132.04,365.34 L132.55,368.19 L133.06,370.56 L133.57,372.44 L134.08,373.80 L134.59,374.62 L135.10,374.90 L135.60,374.53 L136.11,373.42 L136.61,371.58 L137.12,369.07 L137.62,365.90 L138.12,362.14 L138.63,357.86 L139.13,353.12 L139.64,348.02 L140.14,342.62 L140.65,337.03 L141.15,331.35 L141.65,325.67 L142.16,320.08 L142.66,314.68 L143.17,309.58 L143.67,304.84 L144.17,300.56 L144.68,296.80 L145.18,293.63 L145.69,291.12 L146.19,289.28 L146.70,288.17 L147.20,287.80 L147.71,288.08 L148.22,288.91 L148.73,290.28 L149.24,292.17 L149.75,294.57 L150.26,297.43 L150.77,300.73 L151.29,304.42 L151.80,308.46 L152.31,312.79 L152.82,317.37 L153.33,322.13 L153.84,327.01 L154.35,331.95 L154.86,336.89 L155.37,341.77 L155.88,346.53 L156.39,351.11 L156.90,355.44 L157.41,359.48 L157.93,363.17 L158.44,366.47 L158.95,369.33 L159.46,371.73 L159.97,373.62 L160.48,374.99 L160.99,375.82 L161.50,376.10 L162.01,375.79 L162.52,374.88 L163.03,373.38 L163.55,371.30 L164.06,368.68 L164.57,365.56 L165.08,361.98 L165.59,358.00 L166.10,353.67 L166.62,349.06 L167.13,344.23 L167.64,339.25 L168.15,334.20 L168.66,329.15 L169.17,324.17 L169.68,319.34 L170.20,314.73 L170.71,310.40 L171.22,306.42 L171.73,302.84 L172.24,299.72 L172.75,297.10 L173.27,295.02 L173.78,293.52 L174.29,292.61 L174.80,292.30 L175.30,292.53 L175.80,293.22 L176.30,294.36 L176.80,295.93 L177.30,297.93 L177.80,300.31 L178.30,303.07 L178.80,306.16 L179.30,309.55 L179.80,313.19 L180.30,317.05 L180.80,321.09 L181.30,325.24 L181.80,329.47 L182.30,333.73 L182.80,337.96 L183.30,342.11 L183.80,346.15 L184.30,350.01 L184.80,353.65 L185.30,357.04 L185.80,360.13 L186.30,362.89 L186.80,365.27 L187.30,367.27 L187.80,368.84 L188.30,369.98 L188.80,370.67 L189.30,370.90 L189.80,370.63 L190.30,369.82 L190.80,368.48 L191.30,366.64 L191.80,364.32 L192.30,361.56 L192.80,358.41 L193.30,354.91 L193.80,351.12 L194.30,347.10 L194.80,342.91 L195.30,338.61 L195.80,334.29 L196.30,329.99 L196.80,325.80 L197.30,321.78 L197.80,317.99 L198.30,314.49 L198.80,311.34 L199.30,308.58 L199.80,306.26 L200.30,304.42 L200.80,303.08 L201.30,302.27 L201.80,302.00 L202.31,302.20 L202.83,302.79 L203.34,303.76 L203.86,305.11 L204.37,306.80 L204.89,308.83 L205.40,311.16 L205.92,313.76 L206.43,316.60 L206.95,319.63 L207.46,322.83 L207.98,326.13 L208.49,329.50 L209.01,332.90 L209.52,336.27 L210.04,339.57 L210.55,342.77 L211.07,345.80 L211.58,348.64 L212.10,351.24 L212.61,353.57 L213.13,355.60 L213.64,357.29 L214.16,358.64 L214.67,359.61 L215.19,360.20 L215.70,360.40 L216.20,360.23 L216.71,359.71 L217.21,358.87 L217.72,357.70 L218.22,356.22 L218.72,354.46 L219.23,352.45 L219.73,350.21 L220.23,347.77 L220.74,345.17 L221.24,342.45 L221.75,339.64 L222.25,336.80 L222.75,333.96 L223.26,331.15 L223.76,328.43 L224.27,325.83 L224.77,323.39 L225.27,321.15 L225.78,319.14 L226.28,317.38 L226.78,315.90 L227.29,314.73 L227.79,313.89 L228.30,313.37 L228.80,313.20 L229.32,313.32 L229.83,313.67 L230.35,314.25 L230.86,315.05 L231.38,316.06 L231.89,317.26 L232.41,318.64 L232.92,320.18 L233.44,321.84 L233.95,323.62 L234.47,325.49 L234.98,327.40 L235.50,329.35 L236.02,331.30 L236.53,333.21 L237.05,335.08 L237.56,336.86 L238.08,338.52 L238.59,340.06 L239.11,341.44 L239.62,342.64 L240.14,343.65 L240.65,344.45 L241.17,345.03 L241.68,345.38 L242.20,345.50 L242.71,345.40 L243.23,345.09 L243.74,344.60 L244.25,343.91 L244.77,343.06 L245.28,342.05 L245.80,340.91 L246.31,339.65 L246.82,338.32 L247.34,336.92 L247.85,335.50 L248.36,334.08 L248.88,332.68 L249.39,331.35 L249.90,330.09 L250.42,328.95 L250.93,327.94 L251.45,327.09 L251.96,326.40 L252.47,325.91 L252.99,325.60 L253.50,325.50 L254.01,325.55 L254.52,325.68 L255.03,325.91 L255.54,326.21 L256.05,326.60 L256.55,327.05 L257.06,327.57 L257.57,328.13 L258.08,328.73 L258.59,329.36 L259.10,330.00 L259.61,330.64 L260.12,331.27 L260.63,331.87 L261.14,332.43 L261.65,332.95 L262.15,333.40 L262.66,333.79 L263.17,334.09 L263.68,334.32 L264.19,334.45 L264.70,334.50 L265.20,334.42 L265.71,334.17 L266.21,333.76 L266.72,333.21 L267.23,332.52 L267.73,331.72 L268.24,330.81 L268.74,329.84 L269.25,328.81 L269.75,327.75 L270.25,326.69 L270.76,325.66 L271.26,324.69 L271.77,323.78 L272.27,322.98 L272.78,322.29 L273.29,321.74 L273.79,321.33 L274.30,321.08 L274.80,321.00 L275.32,321.13 L275.84,321.51 L276.35,322.13 L276.87,322.98 L277.39,324.05 L277.91,325.31 L278.43,326.74 L278.95,328.31 L279.46,329.98 L279.98,331.72 L280.50,333.50 L281.02,335.28 L281.54,337.02 L282.05,338.69 L282.57,340.26 L283.09,341.69 L283.61,342.95 L284.13,344.02 L284.65,344.87 L285.16,345.49 L285.68,345.87 L286.20,346.00 L286.72,345.85 L287.23,345.40 L287.75,344.66 L288.26,343.64 L288.78,342.35 L289.29,340.82 L289.81,339.06 L290.32,337.10 L290.84,334.97 L291.35,332.70 L291.87,330.33 L292.38,327.88 L292.90,325.40 L293.42,322.92 L293.93,320.47 L294.45,318.10 L294.96,315.83 L295.48,313.70 L295.99,311.74 L296.51,309.98 L297.02,308.45 L297.54,307.16 L298.05,306.14 L298.57,305.40 L299.08,304.95 L299.60,304.80 L300.11,304.98 L300.61,305.53 L301.12,306.42 L301.63,307.66 L302.14,309.23 L302.64,311.09 L303.15,313.24 L303.66,315.64 L304.17,318.25 L304.67,321.05 L305.18,323.98 L305.69,327.03 L306.20,330.14 L306.70,333.26 L307.21,336.37 L307.72,339.42 L308.23,342.35 L308.73,345.15 L309.24,347.76 L309.75,350.16 L310.26,352.31 L310.76,354.17 L311.27,355.74 L311.78,356.98 L312.29,357.87 L312.79,358.42 L313.30,358.60 L313.80,358.34 L314.30,357.57 L314.80,356.30 L315.30,354.54 L315.80,352.34 L316.30,349.71 L316.80,346.71 L317.30,343.38 L317.80,339.77 L318.30,335.94 L318.80,331.95 L319.30,327.86 L319.80,323.74 L320.30,319.65 L320.80,315.66 L321.30,311.83 L321.80,308.22 L322.30,304.89 L322.80,301.89 L323.30,299.26 L323.80,297.06 L324.30,295.30 L324.80,294.03 L325.30,293.26 L325.80,293.00 L326.31,293.25 L326.82,294.00 L327.33,295.25 L327.84,296.96 L328.36,299.13 L328.87,301.71 L329.38,304.69 L329.89,308.01 L330.40,311.62 L330.91,315.50 L331.42,319.57 L331.93,323.78 L332.44,328.08 L332.96,332.42 L333.47,336.72 L333.98,340.93 L334.49,345.00 L335.00,348.88 L335.51,352.49 L336.02,355.81 L336.53,358.79 L337.04,361.37 L337.56,363.54 L338.07,365.25 L338.58,366.50 L339.09,367.25 L339.60,367.50 L340.10,367.21 L340.61,366.34 L341.11,364.91 L341.62,362.94 L342.12,360.45 L342.62,357.48 L343.13,354.08 L343.63,350.29 L344.13,346.17 L344.64,341.78 L345.14,337.19 L345.65,332.45 L346.15,327.65 L346.65,322.85 L347.16,318.11 L347.66,313.52 L348.17,309.13 L348.67,305.01 L349.17,301.22 L349.68,297.82 L350.18,294.85 L350.68,292.36 L351.19,290.39 L351.69,288.96 L352.20,288.09 L352.70,287.80 L353.20,288.05 L353.70,288.80 L354.20,290.04 L354.70,291.76 L355.20,293.93 L355.70,296.54 L356.20,299.54 L356.70,302.91 L357.20,306.60 L357.70,310.58 L358.20,314.79 L358.70,319.19 L359.20,323.72 L359.70,328.33 L360.20,332.97 L360.70,337.58 L361.20,342.11 L361.70,346.51 L362.20,350.72 L362.70,354.70 L363.20,358.39 L363.70,361.76 L364.20,364.76 L364.70,367.37 L365.20,369.54 L365.70,371.26 L366.20,372.50 L366.70,373.25 L367.20,373.50 L367.71,373.20 L368.22,372.29 L368.73,370.79 L369.25,368.72 L369.76,366.11 L370.27,363.00 L370.78,359.44 L371.29,355.47 L371.80,351.15 L372.32,346.55 L372.83,341.74 L373.34,336.78 L373.85,331.75 L374.36,326.72 L374.87,321.76 L375.38,316.95 L375.90,312.35 L376.41,308.03 L376.92,304.06 L377.43,300.50 L377.94,297.39 L378.45,294.78 L378.97,292.71 L379.48,291.21 L379.99,290.30 L380.50,290.00" fill="none" stroke="#2ca02c" stroke-width="2.1" stroke-linejoin="round" clip-path="url(#cc)"/>
<path d="M41.00,324.50 L41.50,324.55 L42.01,324.71 L42.51,324.98 L43.01,325.35 L43.52,325.81 L44.02,326.36 L44.53,326.99 L45.03,327.70 L45.53,328.47 L46.04,329.30 L46.54,330.17 L47.04,331.07 L47.55,331.99 L48.05,332.91 L48.56,333.83 L49.06,334.73 L49.56,335.60 L50.07,336.42 L50.57,337.20 L51.07,337.91 L51.58,338.54 L52.08,339.09 L52.59,339.55 L53.09,339.92 L53.59,340.19 L54.10,340.35 L54.60,340.40 L55.12,340.30 L55.63,339.98 L56.15,339.47 L56.66,338.75 L57.18,337.86 L57.70,336.80 L58.21,335.58 L58.73,334.23 L59.24,332.76 L59.76,331.21 L60.28,329.59 L60.79,327.94 L61.31,326.26 L61.82,324.61 L62.34,322.99 L62.86,321.44 L63.37,319.97 L63.89,318.62 L64.40,317.40 L64.92,316.34 L65.44,315.45 L65.95,314.73 L66.47,314.22 L66.98,313.90 L67.50,313.80 L68.01,313.94 L68.52,314.38 L69.04,315.09 L69.55,316.07 L70.06,317.30 L70.57,318.77 L71.08,320.45 L71.60,322.32 L72.11,324.34 L72.62,326.48 L73.13,328.71 L73.64,331.00 L74.16,333.30 L74.67,335.59 L75.18,337.82 L75.69,339.96 L76.20,341.98 L76.72,343.85 L77.23,345.53 L77.74,347.00 L78.25,348.23 L78.76,349.21 L79.28,349.92 L79.79,350.36 L80.30,350.50 L80.82,350.33 L81.33,349.81 L81.85,348.96 L82.36,347.78 L82.88,346.30 L83.39,344.53 L83.91,342.50 L84.42,340.24 L84.94,337.79 L85.45,335.17 L85.97,332.43 L86.48,329.61 L87.00,326.75 L87.52,323.89 L88.03,321.07 L88.55,318.33 L89.06,315.71 L89.58,313.26 L90.09,311.00 L90.61,308.97 L91.12,307.20 L91.64,305.72 L92.15,304.54 L92.67,303.69 L93.18,303.17 L93.70,303.00 L94.20,303.17 L94.71,303.69 L95.21,304.54 L95.71,305.72 L96.22,307.22 L96.72,309.00 L97.22,311.05 L97.73,313.35 L98.23,315.87 L98.74,318.57 L99.24,321.42 L99.74,324.38 L100.25,327.42 L100.75,330.50 L101.25,333.58 L101.76,336.62 L102.26,339.58 L102.76,342.43 L103.27,345.13 L103.77,347.65 L104.28,349.95 L104.78,352.00 L105.28,353.78 L105.79,355.28 L106.29,356.46 L106.79,357.31 L107.30,357.83 L107.80,358.00 L108.30,357.79 L108.81,357.17 L109.31,356.15 L109.81,354.74 L110.32,352.96 L110.82,350.83 L111.33,348.38 L111.83,345.65 L112.33,342.68 L112.84,339.49 L113.34,336.14 L113.84,332.67 L114.35,329.13 L114.85,325.57 L115.36,322.03 L115.86,318.56 L116.36,315.21 L116.87,312.02 L117.37,309.05 L117.87,306.32 L118.38,303.87 L118.88,301.74 L119.39,299.96 L119.89,298.55 L120.39,297.53 L120.90,296.91 L121.40,296.70 L121.91,296.93 L122.41,297.61 L122.92,298.73 L123.43,300.28 L123.94,302.24 L124.44,304.58 L124.95,307.27 L125.46,310.28 L125.97,313.55 L126.47,317.05 L126.98,320.73 L127.49,324.55 L128.00,328.44 L128.50,332.36 L129.01,336.25 L129.52,340.07 L130.03,343.75 L130.53,347.25 L131.04,350.52 L131.55,353.53 L132.06,356.22 L132.56,358.56 L133.07,360.52 L133.58,362.07 L134.09,363.19 L134.59,363.87 L135.10,364.10 L135.61,363.85 L136.12,363.11 L136.62,361.89 L137.13,360.20 L137.64,358.07 L138.15,355.54 L138.65,352.63 L139.16,349.39 L139.67,345.87 L140.18,342.12 L140.68,338.20 L141.19,334.15 L141.70,330.05 L142.21,325.95 L142.72,321.90 L143.22,317.98 L143.73,314.23 L144.24,310.71 L144.75,307.47 L145.25,304.56 L145.76,302.03 L146.27,299.90 L146.78,298.21 L147.28,296.99 L147.79,296.25 L148.30,296.00 L148.81,296.22 L149.31,296.86 L149.82,297.93 L150.33,299.41 L150.84,301.27 L151.34,303.50 L151.85,306.08 L152.36,308.95 L152.86,312.10 L153.37,315.47 L153.88,319.04 L154.39,322.75 L154.89,326.55 L155.40,330.40 L155.91,334.25 L156.41,338.05 L156.92,341.76 L157.43,345.33 L157.94,348.70 L158.44,351.85 L158.95,354.72 L159.46,357.30 L159.96,359.53 L160.47,361.39 L160.98,362.87 L161.49,363.94 L161.99,364.58 L162.50,364.80 L163.02,364.56 L163.53,363.85 L164.05,362.68 L164.56,361.07 L165.08,359.03 L165.59,356.60 L166.11,353.82 L166.62,350.72 L167.14,347.35 L167.65,343.76 L168.17,340.00 L168.68,336.13 L169.20,332.20 L169.72,328.27 L170.23,324.40 L170.75,320.64 L171.26,317.05 L171.78,313.68 L172.29,310.58 L172.81,307.80 L173.32,305.37 L173.84,303.33 L174.35,301.72 L174.87,300.55 L175.38,299.84 L175.90,299.60 L176.41,299.81 L176.93,300.44 L177.44,301.49 L177.96,302.93 L178.47,304.75 L178.99,306.92 L179.50,309.42 L180.02,312.21 L180.53,315.25 L181.05,318.50 L181.56,321.92 L182.08,325.46 L182.59,329.08 L183.11,332.72 L183.62,336.34 L184.14,339.88 L184.65,343.30 L185.17,346.55 L185.68,349.59 L186.20,352.38 L186.71,354.88 L187.23,357.05 L187.74,358.87 L188.26,360.31 L188.77,361.36 L189.29,361.99 L189.80,362.20 L190.30,361.98 L190.80,361.33 L191.30,360.25 L191.80,358.77 L192.30,356.90 L192.80,354.68 L193.30,352.14 L193.80,349.32 L194.30,346.27 L194.80,343.03 L195.30,339.65 L195.80,336.19 L196.30,332.71 L196.80,329.25 L197.30,325.87 L197.80,322.63 L198.30,319.58 L198.80,316.76 L199.30,314.22 L199.80,312.00 L200.30,310.13 L200.80,308.65 L201.30,307.57 L201.80,306.92 L202.30,306.70 L202.81,306.86 L203.33,307.35 L203.84,308.16 L204.36,309.27 L204.87,310.68 L205.39,312.36 L205.90,314.29 L206.42,316.45 L206.93,318.80 L207.45,321.31 L207.96,323.96 L208.48,326.70 L208.99,329.49 L209.51,332.31 L210.02,335.10 L210.54,337.84 L211.05,340.49 L211.57,343.00 L212.08,345.35 L212.60,347.51 L213.11,349.44 L213.63,351.12 L214.14,352.53 L214.66,353.64 L215.17,354.45 L215.69,354.94 L216.20,355.10 L216.70,354.96 L217.21,354.53 L217.71,353.82 L218.22,352.85 L218.72,351.62 L219.22,350.16 L219.73,348.48 L220.23,346.61 L220.73,344.58 L221.24,342.42 L221.74,340.15 L222.25,337.82 L222.75,335.45 L223.25,333.08 L223.76,330.75 L224.26,328.48 L224.77,326.32 L225.27,324.29 L225.77,322.42 L226.28,320.74 L226.78,319.28 L227.28,318.05 L227.79,317.08 L228.29,316.37 L228.80,315.94 L229.30,315.80 L229.80,315.90 L230.30,316.19 L230.80,316.66 L231.30,317.32 L231.80,318.15 L232.30,319.15 L232.80,320.29 L233.30,321.56 L233.80,322.95 L234.30,324.44 L234.80,326.00 L235.30,327.62 L235.80,329.27 L236.30,330.93 L236.80,332.58 L237.30,334.20 L237.80,335.76 L238.30,337.25 L238.80,338.64 L239.30,339.91 L239.80,341.05 L240.30,342.05 L240.80,342.88 L241.30,343.54 L241.80,344.01 L242.30,344.30 L242.80,344.40 L243.31,344.32 L243.82,344.07 L244.33,343.66 L244.83,343.09 L245.34,342.39 L245.85,341.54 L246.36,340.59 L246.87,339.52 L247.38,338.38 L247.88,337.17 L248.39,335.92 L248.90,334.65 L249.41,333.38 L249.92,332.13 L250.43,330.92 L250.93,329.77 L251.44,328.71 L251.95,327.76 L252.46,326.91 L252.97,326.21 L253.47,325.64 L253.98,325.23 L254.49,324.98 L255.00,324.90 L255.50,324.95 L256.00,325.12 L256.50,325.39 L257.00,325.76 L257.50,326.22 L258.00,326.76 L258.50,327.38 L259.00,328.06 L259.50,328.78 L260.00,329.53 L260.50,330.30 L261.00,331.07 L261.50,331.82 L262.00,332.54 L262.50,333.22 L263.00,333.84 L263.50,334.38 L264.00,334.84 L264.50,335.21 L265.00,335.48 L265.50,335.65 L266.00,335.70 L266.51,335.66 L267.02,335.53 L267.54,335.32 L268.05,335.04 L268.56,334.68 L269.07,334.25 L269.59,333.76 L270.10,333.23 L270.61,332.64 L271.12,332.03 L271.64,331.40 L272.15,330.75 L272.66,330.10 L273.18,329.47 L273.69,328.86 L274.20,328.28 L274.71,327.74 L275.23,327.25 L275.74,326.82 L276.25,326.46 L276.76,326.18 L277.28,325.97 L277.79,325.84 L278.30,325.80 L278.82,325.91 L279.33,326.25 L279.85,326.80 L280.37,327.55 L280.88,328.48 L281.40,329.55 L281.92,330.73 L282.43,332.00 L282.95,333.30 L283.47,334.60 L283.98,335.87 L284.50,337.05 L285.02,338.12 L285.53,339.05 L286.05,339.80 L286.57,340.35 L287.08,340.69 L287.60,340.80 L288.11,340.72 L288.61,340.49 L289.12,340.10 L289.63,339.56 L290.13,338.88 L290.64,338.07 L291.15,337.13 L291.66,336.07 L292.16,334.92 L292.67,333.68 L293.18,332.36 L293.68,330.98 L294.19,329.57 L294.70,328.13 L295.20,326.67 L295.71,325.23 L296.22,323.82 L296.72,322.44 L297.23,321.12 L297.74,319.88 L298.24,318.73 L298.75,317.67 L299.26,316.73 L299.77,315.92 L300.27,315.24 L300.78,314.70 L301.29,314.31 L301.79,314.08 L302.30,314.00 L302.80,314.14 L303.30,314.56 L303.80,315.24 L304.30,316.19 L304.80,317.38 L305.30,318.80 L305.80,320.42 L306.30,322.22 L306.80,324.16 L307.30,326.23 L307.80,328.38 L308.30,330.59 L308.80,332.81 L309.30,335.02 L309.80,337.17 L310.30,339.24 L310.80,341.18 L311.30,342.98 L311.80,344.60 L312.30,346.02 L312.80,347.21 L313.30,348.16 L313.80,348.84 L314.30,349.26 L314.80,349.40 L315.31,349.24 L315.82,348.77 L316.33,348.00 L316.84,346.93 L317.36,345.58 L317.87,343.97 L318.38,342.12 L318.89,340.05 L319.40,337.80 L319.91,335.39 L320.42,332.85 L320.93,330.23 L321.44,327.55 L321.96,324.85 L322.47,322.17 L322.98,319.55 L323.49,317.01 L324.00,314.60 L324.51,312.35 L325.02,310.28 L325.53,308.43 L326.04,306.82 L326.56,305.47 L327.07,304.40 L327.58,303.63 L328.09,303.16 L328.60,303.00 L329.11,303.19 L329.61,303.74 L330.12,304.65 L330.63,305.91 L331.14,307.51 L331.64,309.41 L332.15,311.60 L332.66,314.04 L333.17,316.70 L333.67,319.55 L334.18,322.54 L334.69,325.64 L335.20,328.81 L335.70,331.99 L336.21,335.16 L336.72,338.26 L337.23,341.25 L337.73,344.10 L338.24,346.76 L338.75,349.20 L339.26,351.39 L339.76,353.29 L340.27,354.89 L340.78,356.15 L341.29,357.06 L341.79,357.61 L342.30,357.80 L342.80,357.59 L343.31,356.97 L343.81,355.95 L344.31,354.53 L344.82,352.75 L345.32,350.62 L345.83,348.17 L346.33,345.43 L346.83,342.45 L347.34,339.26 L347.84,335.90 L348.34,332.43 L348.85,328.89 L349.35,325.31 L349.86,321.77 L350.36,318.30 L350.86,314.94 L351.37,311.75 L351.87,308.77 L352.37,306.03 L352.88,303.58 L353.38,301.45 L353.89,299.67 L354.39,298.25 L354.89,297.23 L355.40,296.61 L355.90,296.40 L356.41,296.63 L356.93,297.31 L357.44,298.43 L357.96,299.98 L358.47,301.94 L358.99,304.28 L359.50,306.97 L360.02,309.98 L360.53,313.25 L361.05,316.75 L361.56,320.43 L362.08,324.25 L362.59,328.14 L363.11,332.06 L363.62,335.95 L364.14,339.77 L364.65,343.45 L365.17,346.95 L365.68,350.22 L366.20,353.23 L366.71,355.92 L367.23,358.26 L367.74,360.22 L368.26,361.77 L368.77,362.89 L369.29,363.57 L369.80,363.80 L370.31,363.56 L370.82,362.83 L371.32,361.63 L371.83,359.97 L372.34,357.89 L372.85,355.40 L373.35,352.55 L373.86,349.37 L374.37,345.92 L374.88,342.24 L375.38,338.39 L375.89,334.43 L376.40,330.40 L376.91,326.37 L377.42,322.41 L377.92,318.56 L378.43,314.88 L378.94,311.43 L379.45,308.25 L379.95,305.40 L380.46,302.91 L380.97,300.83 L381.48,299.17 L381.98,297.97 L382.49,297.24 L383.00,297.00" fill="none" stroke="#d62728" stroke-width="2.1" stroke-linejoin="round" clip-path="url(#cc)"/>
<line x1="105.10" y1="263.50" x2="123.60" y2="263.50" stroke="#1f77b4" stroke-width="2.1" />
<text x="128.10" y="268.60" font-size="14" text-anchor="start" font-weight="normal" font-style="normal" fill="#000" >0 %</text>
<line x1="179.20" y1="263.50" x2="197.80" y2="263.50" stroke="#2ca02c" stroke-width="2.1" />
<text x="202.30" y="268.60" font-size="14" text-anchor="start" font-weight="normal" font-style="normal" fill="#000" >0.5 %</text>
<line x1="265.10" y1="263.50" x2="283.90" y2="263.50" stroke="#d62728" stroke-width="2.1" />
<text x="288.40" y="268.60" font-size="14" text-anchor="start" font-weight="normal" font-style="normal" fill="#000" >1 %</text>
<rect x="43.4" y="245.8" width="331.40000000000003" height="170.8" fill="none" stroke="#000" stroke-width="1.6"/>
<line x1="43.40" y1="416.60" x2="43.40" y2="422.90" stroke="#000" stroke-width="1.6" />
<text x="43.40" y="438.70" font-size="14" text-anchor="middle" font-weight="normal" font-style="normal" fill="#000" >0</text>
<line x1="98.63" y1="416.60" x2="98.63" y2="422.90" stroke="#000" stroke-width="1.6" />
<text x="98.63" y="438.70" font-size="14" text-anchor="middle" font-weight="normal" font-style="normal" fill="#000" >50</text>
<line x1="153.87" y1="416.60" x2="153.87" y2="422.90" stroke="#000" stroke-width="1.6" />
<text x="153.87" y="438.70" font-size="14" text-anchor="middle" font-weight="normal" font-style="normal" fill="#000" >100</text>
<line x1="209.10" y1="416.60" x2="209.10" y2="422.90" stroke="#000" stroke-width="1.6" />
<text x="209.10" y="438.70" font-size="14" text-anchor="middle" font-weight="normal" font-style="normal" fill="#000" >150</text>
<line x1="264.33" y1="416.60" x2="264.33" y2="422.90" stroke="#000" stroke-width="1.6" />
<text x="264.33" y="438.70" font-size="14" text-anchor="middle" font-weight="normal" font-style="normal" fill="#000" >200</text>
<line x1="319.57" y1="416.60" x2="319.57" y2="422.90" stroke="#000" stroke-width="1.6" />
<text x="319.57" y="438.70" font-size="14" text-anchor="middle" font-weight="normal" font-style="normal" fill="#000" >250</text>
<line x1="374.80" y1="416.60" x2="374.80" y2="422.90" stroke="#000" stroke-width="1.6" />
<text x="374.80" y="438.70" font-size="14" text-anchor="middle" font-weight="normal" font-style="normal" fill="#000" >300</text>
<line x1="37.10" y1="245.80" x2="43.40" y2="245.80" stroke="#000" stroke-width="1.6" />
<text x="31.80" y="250.80" font-size="14" text-anchor="end" font-weight="normal" font-style="normal" fill="#000" >2</text>
<line x1="37.10" y1="288.50" x2="43.40" y2="288.50" stroke="#000" stroke-width="1.6" />
<text x="31.80" y="293.50" font-size="14" text-anchor="end" font-weight="normal" font-style="normal" fill="#000" >1</text>
<line x1="37.10" y1="331.20" x2="43.40" y2="331.20" stroke="#000" stroke-width="1.6" />
<text x="31.80" y="336.20" font-size="14" text-anchor="end" font-weight="normal" font-style="normal" fill="#000" >0</text>
<line x1="37.10" y1="373.90" x2="43.40" y2="373.90" stroke="#000" stroke-width="1.6" />
<text x="31.80" y="378.90" font-size="14" text-anchor="end" font-weight="normal" font-style="normal" fill="#000" >−1</text>
<line x1="37.10" y1="416.60" x2="43.40" y2="416.60" stroke="#000" stroke-width="1.6" />
<text x="31.80" y="421.60" font-size="14" text-anchor="end" font-weight="normal" font-style="normal" fill="#000" >−2</text>
<text x="44.60" y="240.80" font-size="14" text-anchor="start" font-weight="normal" font-style="normal" fill="#000" >1e−2</text>
<text x="209.10" y="452.80" font-size="14" text-anchor="middle" font-weight="normal" font-style="normal" fill="#000" >Time (ps)</text>
<text x="11.10" y="331.20" font-size="14" text-anchor="middle" font-weight="normal" font-style="normal" fill="#000" transform="rotate(-90 11.1 331.2)">COF</text>
<text x="8.60" y="247.80" font-size="18" text-anchor="start" font-weight="bold" font-style="normal" fill="#000" >c</text>
<circle cx="467.84" cy="274.99" r="6.2" fill="#1f77b4"/>
<path d="M548.20,319.00 L553.60,327.50 L548.20,336.00 L542.80,327.50 Z" fill="#2ca02c"/>
<path d="M622.56,383.70 L634.56,383.70 L628.56,395.70 Z" fill="#d62728"/>
<path d="M467.84,274.99 L548.20,327.50 L628.56,389.70" fill="none" stroke="#808080" stroke-width="2.7" stroke-dasharray="9.6 4.4"/>
<rect x="459.8" y="245.3" width="176.8" height="171.89999999999998" fill="none" stroke="#000" stroke-width="1.6"/>
<line x1="467.84" y1="417.20" x2="467.84" y2="423.50" stroke="#000" stroke-width="1.6" />
<text x="467.84" y="440.20" font-size="14" text-anchor="middle" font-weight="normal" font-style="normal" fill="#000" >0.0</text>
<line x1="548.20" y1="417.20" x2="548.20" y2="423.50" stroke="#000" stroke-width="1.6" />
<text x="548.20" y="440.20" font-size="14" text-anchor="middle" font-weight="normal" font-style="normal" fill="#000" >0.5</text>
<line x1="628.56" y1="417.20" x2="628.56" y2="423.50" stroke="#000" stroke-width="1.6" />
<text x="628.56" y="440.20" font-size="14" text-anchor="middle" font-weight="normal" font-style="normal" fill="#000" >1.0</text>
<line x1="453.50" y1="401.57" x2="459.80" y2="401.57" stroke="#000" stroke-width="1.6" />
<text x="447.60" y="406.57" font-size="14" text-anchor="end" font-weight="normal" font-style="normal" fill="#000" >0.8</text>
<line x1="453.50" y1="370.32" x2="459.80" y2="370.32" stroke="#000" stroke-width="1.6" />
<text x="447.60" y="375.32" font-size="14" text-anchor="end" font-weight="normal" font-style="normal" fill="#000" >0.9</text>
<line x1="453.50" y1="339.06" x2="459.80" y2="339.06" stroke="#000" stroke-width="1.6" />
<text x="447.60" y="344.06" font-size="14" text-anchor="end" font-weight="normal" font-style="normal" fill="#000" >1.0</text>
<line x1="453.50" y1="307.81" x2="459.80" y2="307.81" stroke="#000" stroke-width="1.6" />
<text x="447.60" y="312.81" font-size="14" text-anchor="end" font-weight="normal" font-style="normal" fill="#000" >1.1</text>
<line x1="453.50" y1="276.55" x2="459.80" y2="276.55" stroke="#000" stroke-width="1.6" />
<text x="447.60" y="281.55" font-size="14" text-anchor="end" font-weight="normal" font-style="normal" fill="#000" >1.2</text>
<line x1="453.50" y1="245.30" x2="459.80" y2="245.30" stroke="#000" stroke-width="1.6" />
<text x="447.60" y="250.30" font-size="14" text-anchor="end" font-weight="normal" font-style="normal" fill="#000" >1.3</text>
<text x="460.20" y="240.20" font-size="14" text-anchor="start" font-weight="normal" font-style="normal" fill="#000" >1e−2</text>
<text x="548.40" y="454.40" font-size="14" text-anchor="middle" font-weight="normal" font-style="normal" fill="#000" >Strain (%)</text>
<text x="423.60" y="331.20" font-size="14" text-anchor="middle" font-weight="normal" font-style="normal" fill="#000" transform="rotate(-90 423.6 331.2)">COF</text>
<text x="401.00" y="247.80" font-size="18" text-anchor="start" font-weight="bold" font-style="normal" fill="#000" >d</text></svg>
</body></html>
